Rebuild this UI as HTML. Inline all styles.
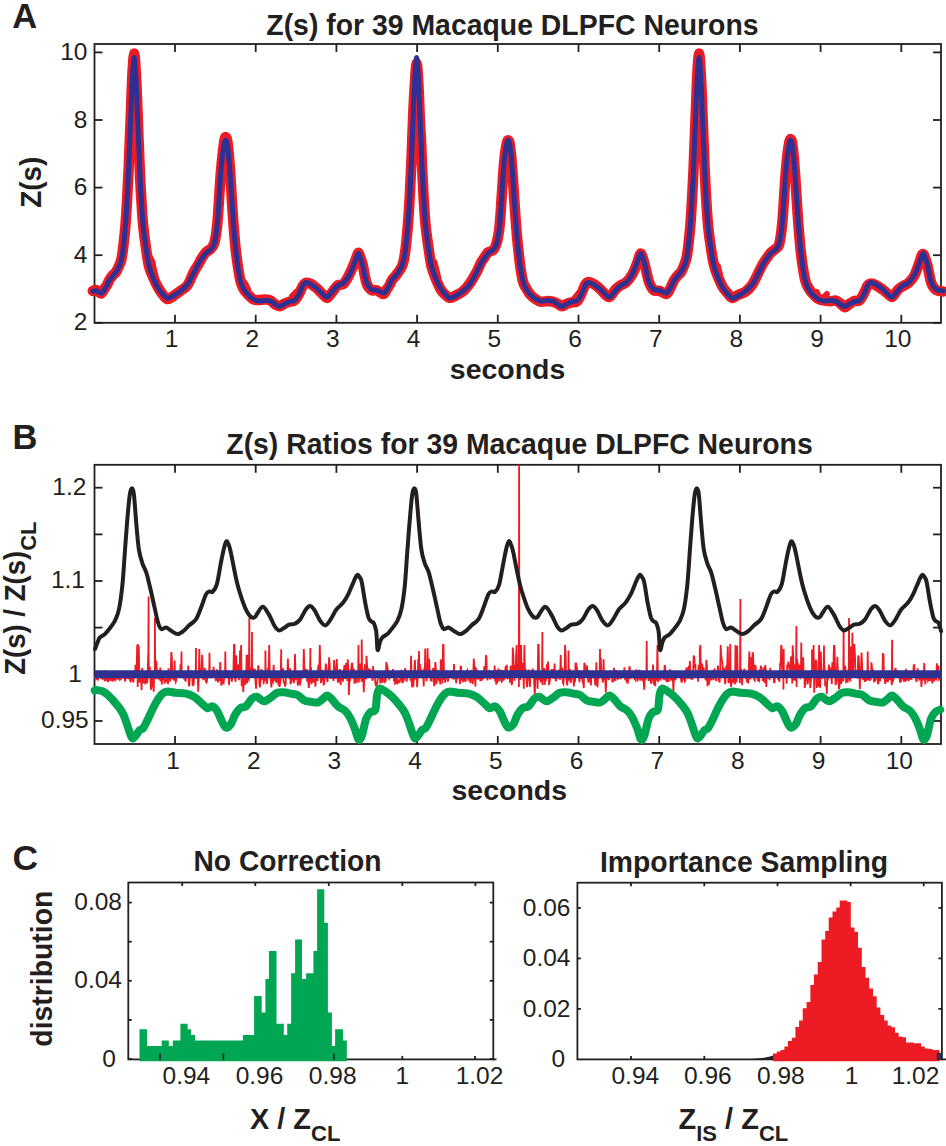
<!DOCTYPE html>
<html><head><meta charset="utf-8"><title>Z(s) figure</title>
<style>html,body{margin:0;padding:0;background:#fff;overflow:hidden}svg{display:block}text{font-family:"Liberation Sans",sans-serif;fill:#231f20}</style>
</head><body>
<svg width="946" height="1146" viewBox="0 0 946 1146">
<rect width="946" height="1146" fill="#fff"/>
<defs>
<clipPath id="cA"><rect x="80" y="44.0" width="870" height="278.8"/></clipPath>
<clipPath id="cB"><rect x="80" y="464.8" width="870" height="282.2"/></clipPath>
</defs>
<rect x="94.5" y="44.0" width="846.5" height="278.8" fill="none" stroke="#231f20" stroke-width="1.8"/>
<line x1="175" y1="322.8" x2="175" y2="314.8" stroke="#231f20" stroke-width="1.8"/>
<line x1="175" y1="44" x2="175" y2="52" stroke="#231f20" stroke-width="1.8"/>
<text x="171.5" y="347.3" font-size="24.5" font-weight="normal" text-anchor="middle">1</text>
<line x1="255.7" y1="322.8" x2="255.7" y2="314.8" stroke="#231f20" stroke-width="1.8"/>
<line x1="255.7" y1="44" x2="255.7" y2="52" stroke="#231f20" stroke-width="1.8"/>
<text x="252.2" y="347.3" font-size="24.5" font-weight="normal" text-anchor="middle">2</text>
<line x1="336.4" y1="322.8" x2="336.4" y2="314.8" stroke="#231f20" stroke-width="1.8"/>
<line x1="336.4" y1="44" x2="336.4" y2="52" stroke="#231f20" stroke-width="1.8"/>
<text x="332.9" y="347.3" font-size="24.5" font-weight="normal" text-anchor="middle">3</text>
<line x1="417.1" y1="322.8" x2="417.1" y2="314.8" stroke="#231f20" stroke-width="1.8"/>
<line x1="417.1" y1="44" x2="417.1" y2="52" stroke="#231f20" stroke-width="1.8"/>
<text x="413.6" y="347.3" font-size="24.5" font-weight="normal" text-anchor="middle">4</text>
<line x1="497.8" y1="322.8" x2="497.8" y2="314.8" stroke="#231f20" stroke-width="1.8"/>
<line x1="497.8" y1="44" x2="497.8" y2="52" stroke="#231f20" stroke-width="1.8"/>
<text x="494.3" y="347.3" font-size="24.5" font-weight="normal" text-anchor="middle">5</text>
<line x1="578.5" y1="322.8" x2="578.5" y2="314.8" stroke="#231f20" stroke-width="1.8"/>
<line x1="578.5" y1="44" x2="578.5" y2="52" stroke="#231f20" stroke-width="1.8"/>
<text x="575" y="347.3" font-size="24.5" font-weight="normal" text-anchor="middle">6</text>
<line x1="659.2" y1="322.8" x2="659.2" y2="314.8" stroke="#231f20" stroke-width="1.8"/>
<line x1="659.2" y1="44" x2="659.2" y2="52" stroke="#231f20" stroke-width="1.8"/>
<text x="655.7" y="347.3" font-size="24.5" font-weight="normal" text-anchor="middle">7</text>
<line x1="739.9" y1="322.8" x2="739.9" y2="314.8" stroke="#231f20" stroke-width="1.8"/>
<line x1="739.9" y1="44" x2="739.9" y2="52" stroke="#231f20" stroke-width="1.8"/>
<text x="736.4" y="347.3" font-size="24.5" font-weight="normal" text-anchor="middle">8</text>
<line x1="820.6" y1="322.8" x2="820.6" y2="314.8" stroke="#231f20" stroke-width="1.8"/>
<line x1="820.6" y1="44" x2="820.6" y2="52" stroke="#231f20" stroke-width="1.8"/>
<text x="817.1" y="347.3" font-size="24.5" font-weight="normal" text-anchor="middle">9</text>
<line x1="901.3" y1="322.8" x2="901.3" y2="314.8" stroke="#231f20" stroke-width="1.8"/>
<line x1="901.3" y1="44" x2="901.3" y2="52" stroke="#231f20" stroke-width="1.8"/>
<text x="897.8" y="347.3" font-size="24.5" font-weight="normal" text-anchor="middle">10</text>
<line x1="94.5" y1="322.8" x2="102.5" y2="322.8" stroke="#231f20" stroke-width="1.8"/>
<line x1="941" y1="322.8" x2="933" y2="322.8" stroke="#231f20" stroke-width="1.8"/>
<text x="87.5" y="330.4" font-size="24.5" font-weight="normal" text-anchor="end">2</text>
<line x1="94.5" y1="255.2" x2="102.5" y2="255.2" stroke="#231f20" stroke-width="1.8"/>
<line x1="941" y1="255.2" x2="933" y2="255.2" stroke="#231f20" stroke-width="1.8"/>
<text x="87.5" y="262.8" font-size="24.5" font-weight="normal" text-anchor="end">4</text>
<line x1="94.5" y1="187.6" x2="102.5" y2="187.6" stroke="#231f20" stroke-width="1.8"/>
<line x1="941" y1="187.6" x2="933" y2="187.6" stroke="#231f20" stroke-width="1.8"/>
<text x="87.5" y="195.2" font-size="24.5" font-weight="normal" text-anchor="end">6</text>
<line x1="94.5" y1="120" x2="102.5" y2="120" stroke="#231f20" stroke-width="1.8"/>
<line x1="941" y1="120" x2="933" y2="120" stroke="#231f20" stroke-width="1.8"/>
<text x="87.5" y="127.6" font-size="24.5" font-weight="normal" text-anchor="end">8</text>
<line x1="94.5" y1="52.4" x2="102.5" y2="52.4" stroke="#231f20" stroke-width="1.8"/>
<line x1="941" y1="52.4" x2="933" y2="52.4" stroke="#231f20" stroke-width="1.8"/>
<text x="87.5" y="60" font-size="24.5" font-weight="normal" text-anchor="end">10</text>
<g clip-path="url(#cA)" fill="none" stroke-linejoin="round" stroke-linecap="round">
<path d="M92.8,290.9 C93.4,290.8 94.8,289.7 96.2,290.1 C97.6,290.5 99.7,293.7 101,293.5 C102.3,293.3 103.3,290.4 104.3,288.9 C105.3,287.5 106.3,286.2 107.2,284.7 C108.1,283.1 108.6,281.1 109.6,279.5 C110.6,277.9 111.9,276.3 113,275 C114.1,273.7 115.3,273.2 116.3,271.6 C117.3,270 118.4,267.2 119.2,265.4 C120,263.5 120.5,262.7 121.1,260.5 C121.7,258.2 122.2,254.8 122.6,252 C123,249.3 123.1,248.5 123.6,243.8 C124.1,239.1 125,231.7 125.6,223.7 C126.2,215.7 126.8,205.1 127.3,195.8 C127.8,186.5 128.3,177.2 128.7,167.9 C129.1,158.6 129.4,149.7 129.8,140 C130.2,130.3 130.6,120.3 131,110 C131.4,99.7 131.8,86 132.2,78 C132.6,70 132.9,66.1 133.2,62 C133.5,57.9 133.9,53.5 134.2,53.5 C134.5,53.5 134.8,57.2 135.2,62 C135.5,66.8 135.9,73.8 136.3,82 C136.7,90.2 137.1,101.3 137.5,111 C137.9,120.7 138.2,130.5 138.6,140 C139,149.5 139.3,158.6 139.7,167.9 C140.1,177.2 140.5,186.5 141.1,195.8 C141.7,205.1 142.3,215.6 143,223.7 C143.7,231.8 144.5,237.4 145.5,244.4 C146.5,251.5 147.6,260.5 149,266.3 C150.4,272 152.3,275.2 153.8,278.7 C155.3,282.3 156.6,284.9 158,287.4 C159.4,289.9 160.7,291.8 162.2,293.8 C163.7,295.7 165.3,298.7 167.2,299.1 C169.1,299.4 171.2,297.3 173.5,295.9 C175.8,294.4 178.8,292.2 181.1,290.4 C183.4,288.6 185.4,288.3 187.5,285.3 C189.6,282.2 192,275.5 193.8,272 C195.6,268.5 197.2,266.5 198.5,264.2 C199.8,261.9 200.6,260 201.8,258.1 C203,256.1 204.2,254.1 205.7,252.5 C207.2,250.9 209.6,250.1 211,248.6 C212.4,247.2 213.2,246.5 214.1,243.7 C215,240.9 215.8,236.4 216.4,231.9 C217,227.4 217.4,223 217.9,216.6 C218.4,210.2 218.9,201.3 219.4,193.7 C219.9,186.1 220.4,177.7 221,170.8 C221.6,163.9 222.2,157.7 222.8,152.5 C223.4,147.3 224.1,142 224.6,139.5 C225.1,137 225.4,137.1 225.8,137.3 C226.2,137.5 226.7,137.4 227.2,140.5 C227.7,143.6 228.4,149.8 228.9,155.6 C229.4,161.4 229.9,167.8 230.4,175.4 C230.9,183 231.4,193.2 231.9,201.3 C232.4,209.4 232.9,216.5 233.5,224.2 C234.1,231.9 234.8,241 235.5,247.7 C236.2,254.5 236.9,259.4 237.7,264.9 C238.5,270.3 239.4,276.7 240.4,280.7 C241.4,284.7 242.2,286.6 243.4,288.9 C244.6,291.2 246.2,292.6 247.8,294.3 C249.4,296 251.3,298.1 253,299.1 C254.7,300 256.1,299.9 258.2,300 C260.3,300.1 263.5,299.5 265.6,299.6 C267.7,299.7 269.2,299.8 270.8,300.6 C272.4,301.4 273.7,303.6 275.2,304.6 C276.7,305.5 278.2,306.4 279.7,306.3 C281.2,306.1 282.5,304.6 284.1,303.8 C285.7,303.1 287.6,302.3 289.3,301.8 C291,301.2 292.9,301.7 294.5,300.4 C296.1,299.1 297.5,296.6 298.9,294.2 C300.2,291.8 301.4,288.2 302.6,286.3 C303.8,284.4 304.6,283.3 306,282.9 C307.4,282.5 309.3,283 311.3,284.1 C313.3,285.2 315.9,287.7 318,289.5 C320.1,291.4 322.1,293.8 323.7,295.2 C325.3,296.5 325.9,298.5 327.5,297.8 C329.1,297 331.4,292.9 333.2,290.8 C334.9,288.7 336.2,286.4 338,285.2 C339.8,284 341.8,285.5 343.7,283.7 C345.6,281.9 347.6,277.7 349.4,274.3 C351.1,271 353,266.5 354.2,263.5 C355.4,260.6 356.1,258.3 356.8,256.5 C357.5,254.7 357.8,252.9 358.3,252.8 C358.8,252.7 359.1,254 359.8,256 C360.5,258 361.6,260.3 362.7,264.8 C363.8,269.3 365.1,278.8 366.5,283 C367.9,287.2 369.6,288.7 371.3,289.9 C373.1,291.2 375,289.8 377,290.4 C379,291.1 381.8,294.1 383.4,294 C385.1,293.8 385.7,290.9 386.8,289.4 C387.8,287.9 388.8,286.6 389.6,285 C390.5,283.4 391.1,281.5 392,280 C393,278.5 394.3,277.5 395.4,276.1 C396.6,274.6 397.7,273 398.8,271.5 C399.8,270 400.8,268.7 401.6,267 C402.4,265.3 403,263.8 403.5,261.5 C404.1,259.1 404.6,255.6 405,252.8 C405.5,250.1 405.5,249.8 406,244.9 C406.5,240.1 407.4,231.9 408,223.7 C408.7,215.5 409.2,205.1 409.8,195.8 C410.3,186.5 410.7,177.2 411.1,167.9 C411.6,158.6 411.9,149.7 412.2,140 C412.6,130.3 413.1,118.7 413.4,110 C413.8,101.3 414.3,94.3 414.6,88 C415,81.7 415.3,76.1 415.6,72 C416,67.9 416.3,63.5 416.6,63.5 C417,63.5 417.3,67.2 417.6,72 C418,76.8 418.4,83.8 418.8,92 C419.1,100.2 419.6,113 419.9,121 C420.3,129 420.7,132.2 421,140 C421.4,147.8 421.7,158.6 422.1,167.9 C422.6,177.2 423,186.5 423.5,195.8 C424.1,205.1 424.7,215.7 425.4,223.7 C426.2,231.7 426.9,236.7 427.9,243.7 C428.9,250.8 430.1,260 431.4,266 C432.8,272 434.8,276 436.2,279.8 C437.8,283.6 439.1,286.6 440.4,289 C441.8,291.4 443.1,292.7 444.6,294.1 C446.2,295.6 447.8,297.5 449.6,297.8 C451.5,298 453.6,296.6 455.9,295.5 C458.3,294.3 461.2,293 463.5,290.9 C465.9,288.9 467.8,286.4 469.9,283.3 C472.1,280.3 474.4,276.2 476.2,272.8 C478.1,269.4 479.6,265.4 480.9,262.8 C482.3,260.3 483.1,259.5 484.2,257.7 C485.4,256 486.6,253.6 488.1,252.3 C489.7,251 492.1,251.4 493.4,249.9 C494.8,248.4 495.6,246.4 496.5,243.4 C497.4,240.4 498.2,236.4 498.9,231.9 C499.5,227.4 499.9,223 500.4,216.6 C500.9,210.2 501.3,201.3 501.9,193.7 C502.4,186.1 502.9,177.7 503.4,170.8 C504,163.9 504.6,157.2 505.2,152.5 C505.9,147.8 506.5,144.5 507,142.5 C507.5,140.5 507.8,140.1 508.2,140.3 C508.7,140.5 509.1,140.4 509.6,143.5 C510.2,146.6 510.8,152.8 511.4,158.6 C511.9,164.4 512.4,171.3 512.9,178.4 C513.4,185.5 513.8,193.7 514.4,201.3 C514.9,208.9 515.4,216.7 516,224.2 C516.6,231.7 517.2,239.7 518,246.6 C518.7,253.4 519.3,259.5 520.1,265.3 C521,271.1 521.9,277.5 522.9,281.2 C523.8,285 524.6,285.6 525.9,287.8 C527.1,290 528.6,292.6 530.2,294.5 C531.9,296.4 533.7,297.9 535.5,299.1 C537.2,300.3 538.5,301.3 540.6,301.7 C542.8,302 545.9,301.1 548,301.1 C550.1,301.2 551.6,301.5 553.2,301.9 C554.9,302.4 556.2,303 557.6,303.8 C559.1,304.5 560.7,306.2 562.1,306.2 C563.6,306.3 564.9,304.6 566.5,303.9 C568.1,303.3 570,302.8 571.8,302.4 C573.5,302 575.4,302.8 577,301.4 C578.6,300 580,296.6 581.3,293.9 C582.7,291.2 583.9,287 585,285.1 C586.2,283.1 587,282.1 588.5,282 C589.9,281.8 591.8,282.8 593.8,284.1 C595.8,285.3 598.4,287.5 600.5,289.4 C602.5,291.2 604.6,294.1 606.1,295.3 C607.7,296.5 608.4,297.5 610,296.5 C611.5,295.5 613.9,291.2 615.6,289.3 C617.4,287.5 618.7,286.6 620.5,285.4 C622.2,284.3 624.2,284.1 626.1,282.4 C628,280.7 630.1,278.2 631.8,275.2 C633.6,272.3 635.4,267.7 636.6,264.6 C637.9,261.5 638.6,258.2 639.2,256.4 C639.9,254.5 640.2,253.6 640.8,253.5 C641.2,253.5 641.5,254.1 642.2,256.2 C643,258.3 644,261.8 645.1,266.1 C646.3,270.3 647.5,277.8 649,281.8 C650.4,285.8 652,288.7 653.8,290.2 C655.5,291.7 657.4,290.2 659.5,290.9 C661.5,291.5 664.3,294 665.9,293.9 C667.5,293.9 668.2,292 669.2,290.4 C670.2,288.8 671.2,286.2 672.1,284.4 C673,282.6 673.5,281.1 674.5,279.6 C675.5,278.1 676.8,276.4 677.9,275.1 C679,273.8 680.2,273.5 681.2,271.9 C682.2,270.3 683.3,267.4 684.1,265.4 C684.9,263.4 685.4,261.9 686,259.7 C686.6,257.6 687.1,255 687.5,252.3 C687.9,249.7 688,248.7 688.5,243.9 C689,239.2 689.9,231.7 690.5,223.7 C691.1,215.7 691.7,205.1 692.2,195.8 C692.7,186.5 693.2,177.2 693.6,167.9 C694,158.6 694.3,149.7 694.7,140 C695.1,130.3 695.5,120.3 695.9,110 C696.3,99.7 696.7,86 697.1,78 C697.5,70 697.8,66.1 698.1,62 C698.4,57.9 698.8,53.5 699.1,53.5 C699.4,53.5 699.7,57.2 700.1,62 C700.4,66.8 700.8,73.8 701.2,82 C701.6,90.2 702,101.3 702.4,111 C702.8,120.7 703.1,130.5 703.5,140 C703.9,149.5 704.2,158.6 704.6,167.9 C705,177.2 705.5,186.5 706,195.8 C706.5,205.1 707.2,215.6 707.9,223.7 C708.6,231.8 709.4,237.4 710.4,244.3 C711.4,251.1 712.5,259 713.9,264.7 C715.3,270.4 717.2,274.7 718.7,278.5 C720.2,282.3 721.5,284.9 722.9,287.3 C724.3,289.7 725.6,290.9 727.1,292.7 C728.6,294.5 730.2,297.6 732.1,297.9 C734,298.3 736.1,295.8 738.4,294.8 C740.7,293.7 743.7,293.1 746,291.3 C748.3,289.6 750.3,287.7 752.4,284.5 C754.5,281.3 756.9,275.8 758.7,272.2 C760.5,268.6 762.1,265.3 763.4,263 C764.7,260.7 765.5,259.9 766.7,258.2 C767.9,256.5 769.1,254.5 770.6,252.9 C772.1,251.3 774.5,250 775.9,248.6 C777.3,247.3 778.1,247.6 779,244.8 C779.9,242 780.7,236.6 781.3,231.9 C781.9,227.2 782.3,223 782.8,216.6 C783.3,210.2 783.8,201.3 784.3,193.7 C784.8,186.1 785.3,177.7 785.9,170.8 C786.5,163.9 787.1,157.4 787.7,152.5 C788.3,147.6 789,143.7 789.5,141.5 C790,139.3 790.3,139.1 790.7,139.3 C791.1,139.5 791.6,139.4 792.1,142.5 C792.6,145.6 793.3,151.8 793.8,157.6 C794.3,163.4 794.8,170.1 795.3,177.4 C795.8,184.7 796.3,193.5 796.8,201.3 C797.3,209.1 797.8,216.4 798.4,224.2 C799,232 799.7,241.2 800.4,248.1 C801.1,255 801.8,260 802.6,265.4 C803.4,270.8 804.3,276.7 805.3,280.5 C806.2,284.2 807.1,285.5 808.3,287.8 C809.5,290 811.1,292 812.7,293.8 C814.3,295.6 816.2,297.6 817.9,298.7 C819.6,299.8 821,300 823.1,300.4 C825.2,300.8 828.4,301.1 830.5,301.2 C832.6,301.2 834.1,300.2 835.7,300.5 C837.3,300.9 838.6,302.1 840.1,303.2 C841.6,304.4 843.1,307.1 844.6,307.3 C846.1,307.5 847.4,305.3 849,304.3 C850.6,303.2 852.5,301.5 854.2,300.9 C855.9,300.3 857.8,301.8 859.4,300.6 C861,299.4 862.4,296.1 863.8,293.7 C865.1,291.2 866.3,287.5 867.5,285.8 C868.7,284.1 869.4,283.5 870.9,283.5 C872.4,283.4 874.2,284.3 876.2,285.3 C878.2,286.4 880.8,288.2 882.9,289.8 C885,291.3 887,293.5 888.6,294.6 C890.2,295.8 890.8,297.6 892.4,296.7 C894,295.9 896.3,291.4 898.1,289.6 C899.8,287.9 901.1,287.3 902.9,286.1 C904.6,285 906.7,284.5 908.6,282.8 C910.5,281 912.5,278.9 914.3,275.7 C916,272.4 917.9,266.7 919.1,263.4 C920.3,260 921,257 921.7,255.4 C922.4,253.9 922.7,253.9 923.2,254.1 C923.7,254.4 924,254.9 924.7,257 C925.4,259 926.5,262 927.6,266.4 C928.7,270.8 930,279.4 931.4,283.3 C932.8,287.3 934.2,288.7 936.2,290 C938.2,291.4 942,291.2 943.2,291.5" stroke="#ed1c24" stroke-width="10.5"/>
<path d="M150.5,258 L152.5,262 L154,270 L156,278" stroke="#ed1c24" stroke-width="6"/>
<path d="M244,282 L246,285 L248,289" stroke="#ed1c24" stroke-width="6"/>
<path d="M434.4,262 L436.4,270 L438.4,278" stroke="#ed1c24" stroke-width="6"/>
<path d="M717.9,266 L719.9,274" stroke="#ed1c24" stroke-width="6"/>
<path d="M292,296 L296,292" stroke="#ed1c24" stroke-width="6"/>
<path d="M574.5,298 L578.5,293" stroke="#ed1c24" stroke-width="6"/>
<path d="M814.9,296 L816.9,292 L818.9,297" stroke="#ed1c24" stroke-width="6"/>
<path d="M822.9,298 L826.9,294" stroke="#ed1c24" stroke-width="6"/>
<path d="M92.8,291.3 C93.4,291.2 94.8,290.5 96.2,290.8 C97.6,291.1 99.7,293.4 101,293.2 C102.3,293 103.3,291.2 104.3,289.8 C105.3,288.4 106.3,286.3 107.2,284.6 C108.1,282.9 108.6,281.2 109.6,279.8 C110.6,278.4 111.9,277.3 113,275.9 C114.1,274.5 115.3,273.2 116.3,271.6 C117.3,270 118.4,268.1 119.2,266.3 C120,264.5 120.5,262.8 121.1,260.6 C121.7,258.4 122.2,255.6 122.6,252.9 C123,250.2 123.1,249.5 123.6,244.6 C124.1,239.7 125,231.8 125.6,223.7 C126.2,215.6 126.8,205.1 127.3,195.8 C127.8,186.5 128.3,177.2 128.7,167.9 C129.1,158.6 129.4,149.7 129.8,140 C130.2,130.3 130.6,119.7 131,110 C131.4,100.3 131.8,89.3 132.2,82 C132.6,74.7 132.9,70.1 133.2,66 C133.5,61.9 133.9,57.5 134.2,57.5 C134.5,57.5 134.8,61.2 135.2,66 C135.5,70.8 135.9,77.8 136.3,86 C136.7,94.2 137.1,106 137.5,115 C137.9,124 138.2,131.2 138.6,140 C139,148.8 139.3,158.6 139.7,167.9 C140.1,177.2 140.5,186.5 141.1,195.8 C141.7,205.1 142.3,215.6 143,223.7 C143.7,231.8 144.5,237.6 145.5,244.6 C146.5,251.6 147.6,259.8 149,265.6 C150.4,271.4 152.3,275.8 153.8,279.5 C155.3,283.2 156.6,285.7 158,288 C159.4,290.3 160.7,291.8 162.2,293.5 C163.7,295.2 165.3,297.8 167.2,298.2 C169.1,298.6 171.2,297 173.5,295.7 C175.8,294.4 178.8,292.5 181.1,290.6 C183.4,288.7 185.4,287.2 187.5,284.3 C189.6,281.4 192,276.4 193.8,272.9 C195.6,269.4 197.2,265.9 198.5,263.5 C199.8,261.1 200.6,260.2 201.8,258.5 C203,256.8 204.2,254.7 205.7,253.2 C207.2,251.7 209.6,250.9 211,249.4 C212.4,247.9 213.2,247 214.1,244.1 C215,241.2 215.8,236.5 216.4,231.9 C217,227.3 217.4,223 217.9,216.6 C218.4,210.2 218.9,201.3 219.4,193.7 C219.9,186.1 220.4,177.7 221,170.8 C221.6,163.9 222.2,157.2 222.8,152.5 C223.4,147.8 224.1,144.5 224.6,142.5 C225.1,140.5 225.4,140.1 225.8,140.3 C226.2,140.5 226.7,140.4 227.2,143.5 C227.7,146.6 228.4,152.8 228.9,158.6 C229.4,164.4 229.9,171.3 230.4,178.4 C230.9,185.5 231.4,193.7 231.9,201.3 C232.4,208.9 232.9,216.6 233.5,224.2 C234.1,231.8 234.8,240.2 235.5,247.1 C236.2,254 236.9,259.9 237.7,265.5 C238.5,271.1 239.4,276.6 240.4,280.5 C241.4,284.4 242.2,286.2 243.4,288.6 C244.6,291 246.2,292.9 247.8,294.6 C249.4,296.3 251.3,297.9 253,299 C254.7,300.1 256.1,300.6 258.2,300.9 C260.3,301.1 263.5,300.4 265.6,300.5 C267.7,300.6 269.2,300.6 270.8,301.2 C272.4,301.8 273.7,303.3 275.2,304.2 C276.7,305.1 278.2,306.4 279.7,306.4 C281.2,306.4 282.5,305 284.1,304.2 C285.7,303.4 287.6,302.2 289.3,301.6 C291,301 292.9,301.7 294.5,300.5 C296.1,299.3 297.5,297.1 298.9,294.6 C300.2,292.1 301.4,287.7 302.6,285.7 C303.8,283.7 304.6,282.7 306,282.5 C307.4,282.3 309.3,283.5 311.3,284.6 C313.3,285.8 315.9,287.6 318,289.4 C320.1,291.1 322.1,293.8 323.7,295.1 C325.3,296.4 325.9,297.8 327.5,297 C329.1,296.2 331.4,292.2 333.2,290.3 C334.9,288.4 336.2,286.9 338,285.6 C339.8,284.3 341.8,284.4 343.7,282.7 C345.6,280.9 347.6,278.3 349.4,275.1 C351.1,271.9 353,266.9 354.2,263.7 C355.4,260.5 356.1,257.7 356.8,256 C357.5,254.3 357.8,253.5 358.3,253.5 C358.8,253.5 359.1,254 359.8,256 C360.5,258 361.6,261.2 362.7,265.7 C363.8,270.1 365.1,278.8 366.5,282.7 C367.9,286.6 369.6,288.1 371.3,289.4 C373.1,290.7 375,289.7 377,290.3 C379,290.9 381.8,293.3 383.4,293.2 C385.1,293.1 385.7,291.2 386.8,289.8 C387.8,288.4 388.8,286.3 389.6,284.6 C390.5,282.9 391.1,281.2 392,279.8 C393,278.4 394.3,277.3 395.4,275.9 C396.6,274.5 397.7,273.2 398.8,271.6 C399.8,270 400.8,268.1 401.6,266.3 C402.4,264.5 403,262.8 403.5,260.6 C404.1,258.4 404.6,255.6 405,252.9 C405.5,250.2 405.5,249.5 406,244.6 C406.5,239.7 407.4,231.8 408,223.7 C408.7,215.6 409.2,205.1 409.8,195.8 C410.3,186.5 410.7,177.2 411.1,167.9 C411.6,158.6 411.9,149.7 412.2,140 C412.6,130.3 413.1,119.7 413.4,110 C413.8,100.3 414.3,89.3 414.6,82 C415,74.7 415.3,70.1 415.6,66 C416,61.9 416.3,57.5 416.6,57.5 C417,57.5 417.3,61.2 417.6,66 C418,70.8 418.4,77.8 418.8,86 C419.1,94.2 419.6,106 419.9,115 C420.3,124 420.7,131.2 421,140 C421.4,148.8 421.7,158.6 422.1,167.9 C422.6,177.2 423,186.5 423.5,195.8 C424.1,205.1 424.7,215.6 425.4,223.7 C426.2,231.8 426.9,237.6 427.9,244.6 C428.9,251.6 430.1,259.8 431.4,265.6 C432.8,271.4 434.8,275.8 436.2,279.5 C437.8,283.2 439.1,285.7 440.4,288 C441.8,290.3 443.1,291.8 444.6,293.5 C446.2,295.2 447.8,297.8 449.6,298.2 C451.5,298.6 453.6,297 455.9,295.7 C458.3,294.4 461.2,292.5 463.5,290.6 C465.9,288.7 467.8,287.2 469.9,284.3 C472.1,281.4 474.4,276.4 476.2,272.9 C478.1,269.4 479.6,265.9 480.9,263.5 C482.3,261.1 483.1,260.2 484.2,258.5 C485.4,256.8 486.6,254.7 488.1,253.2 C489.7,251.7 492.1,250.9 493.4,249.4 C494.8,247.9 495.6,247 496.5,244.1 C497.4,241.2 498.2,236.5 498.9,231.9 C499.5,227.3 499.9,223 500.4,216.6 C500.9,210.2 501.3,201.3 501.9,193.7 C502.4,186.1 502.9,177.7 503.4,170.8 C504,163.9 504.6,157.2 505.2,152.5 C505.9,147.8 506.5,144.5 507,142.5 C507.5,140.5 507.8,140.1 508.2,140.3 C508.7,140.5 509.1,140.4 509.6,143.5 C510.2,146.6 510.8,152.8 511.4,158.6 C511.9,164.4 512.4,171.3 512.9,178.4 C513.4,185.5 513.8,193.7 514.4,201.3 C514.9,208.9 515.4,216.6 516,224.2 C516.6,231.8 517.2,240.2 518,247.1 C518.7,254 519.3,259.9 520.1,265.5 C521,271.1 521.9,276.6 522.9,280.5 C523.8,284.4 524.6,286.2 525.9,288.6 C527.1,291 528.6,292.9 530.2,294.6 C531.9,296.3 533.7,297.9 535.5,299 C537.2,300.1 538.5,300.6 540.6,300.9 C542.8,301.1 545.9,300.4 548,300.5 C550.1,300.6 551.6,300.6 553.2,301.2 C554.9,301.8 556.2,303.3 557.6,304.2 C559.1,305.1 560.7,306.4 562.1,306.4 C563.6,306.4 564.9,305 566.5,304.2 C568.1,303.4 570,302.2 571.8,301.6 C573.5,301 575.4,301.7 577,300.5 C578.6,299.3 580,297.1 581.3,294.6 C582.7,292.1 583.9,287.7 585,285.7 C586.2,283.7 587,282.7 588.5,282.5 C589.9,282.3 591.8,283.5 593.8,284.6 C595.8,285.8 598.4,287.6 600.5,289.4 C602.5,291.1 604.6,293.8 606.1,295.1 C607.7,296.4 608.4,297.8 610,297 C611.5,296.2 613.9,292.2 615.6,290.3 C617.4,288.4 618.7,286.9 620.5,285.6 C622.2,284.3 624.2,284.4 626.1,282.7 C628,280.9 630.1,278.3 631.8,275.1 C633.6,271.9 635.4,266.9 636.6,263.7 C637.9,260.5 638.6,257.7 639.2,256 C639.9,254.3 640.2,253.5 640.8,253.5 C641.2,253.5 641.5,254 642.2,256 C643,258 644,261.2 645.1,265.7 C646.3,270.1 647.5,278.8 649,282.7 C650.4,286.6 652,288.1 653.8,289.4 C655.5,290.7 657.4,289.7 659.5,290.3 C661.5,290.9 664.3,293.3 665.9,293.2 C667.5,293.1 668.2,291.2 669.2,289.8 C670.2,288.4 671.2,286.3 672.1,284.6 C673,282.9 673.5,281.2 674.5,279.8 C675.5,278.4 676.8,277.3 677.9,275.9 C679,274.5 680.2,273.2 681.2,271.6 C682.2,270 683.3,268.1 684.1,266.3 C684.9,264.5 685.4,262.8 686,260.6 C686.6,258.4 687.1,255.6 687.5,252.9 C687.9,250.2 688,249.5 688.5,244.6 C689,239.7 689.9,231.8 690.5,223.7 C691.1,215.6 691.7,205.1 692.2,195.8 C692.7,186.5 693.2,177.2 693.6,167.9 C694,158.6 694.3,149.7 694.7,140 C695.1,130.3 695.5,119.7 695.9,110 C696.3,100.3 696.7,89.3 697.1,82 C697.5,74.7 697.8,70.1 698.1,66 C698.4,61.9 698.8,57.5 699.1,57.5 C699.4,57.5 699.7,61.2 700.1,66 C700.4,70.8 700.8,77.8 701.2,86 C701.6,94.2 702,106 702.4,115 C702.8,124 703.1,131.2 703.5,140 C703.9,148.8 704.2,158.6 704.6,167.9 C705,177.2 705.5,186.5 706,195.8 C706.5,205.1 707.2,215.6 707.9,223.7 C708.6,231.8 709.4,237.6 710.4,244.6 C711.4,251.6 712.5,259.8 713.9,265.6 C715.3,271.4 717.2,275.8 718.7,279.5 C720.2,283.2 721.5,285.7 722.9,288 C724.3,290.3 725.6,291.8 727.1,293.5 C728.6,295.2 730.2,297.8 732.1,298.2 C734,298.6 736.1,297 738.4,295.7 C740.7,294.4 743.7,292.5 746,290.6 C748.3,288.7 750.3,287.2 752.4,284.3 C754.5,281.4 756.9,276.4 758.7,272.9 C760.5,269.4 762.1,265.9 763.4,263.5 C764.7,261.1 765.5,260.2 766.7,258.5 C767.9,256.8 769.1,254.7 770.6,253.2 C772.1,251.7 774.5,250.9 775.9,249.4 C777.3,247.9 778.1,247 779,244.1 C779.9,241.2 780.7,236.5 781.3,231.9 C781.9,227.3 782.3,223 782.8,216.6 C783.3,210.2 783.8,201.3 784.3,193.7 C784.8,186.1 785.3,177.7 785.9,170.8 C786.5,163.9 787.1,157.2 787.7,152.5 C788.3,147.8 789,144.5 789.5,142.5 C790,140.5 790.3,140.1 790.7,140.3 C791.1,140.5 791.6,140.4 792.1,143.5 C792.6,146.6 793.3,152.8 793.8,158.6 C794.3,164.4 794.8,171.3 795.3,178.4 C795.8,185.5 796.3,193.7 796.8,201.3 C797.3,208.9 797.8,216.6 798.4,224.2 C799,231.8 799.7,240.2 800.4,247.1 C801.1,254 801.8,259.9 802.6,265.5 C803.4,271.1 804.3,276.6 805.3,280.5 C806.2,284.4 807.1,286.2 808.3,288.6 C809.5,291 811.1,292.9 812.7,294.6 C814.3,296.3 816.2,297.9 817.9,299 C819.6,300.1 821,300.6 823.1,300.9 C825.2,301.1 828.4,300.4 830.5,300.5 C832.6,300.6 834.1,300.6 835.7,301.2 C837.3,301.8 838.6,303.3 840.1,304.2 C841.6,305.1 843.1,306.4 844.6,306.4 C846.1,306.4 847.4,305 849,304.2 C850.6,303.4 852.5,302.2 854.2,301.6 C855.9,301 857.8,301.7 859.4,300.5 C861,299.3 862.4,297.1 863.8,294.6 C865.1,292.1 866.3,287.7 867.5,285.7 C868.7,283.7 869.4,282.7 870.9,282.5 C872.4,282.3 874.2,283.5 876.2,284.6 C878.2,285.8 880.8,287.6 882.9,289.4 C885,291.1 887,293.8 888.6,295.1 C890.2,296.4 890.8,297.8 892.4,297 C894,296.2 896.3,292.2 898.1,290.3 C899.8,288.4 901.1,286.9 902.9,285.6 C904.6,284.3 906.7,284.4 908.6,282.7 C910.5,280.9 912.5,278.3 914.3,275.1 C916,271.9 917.9,266.9 919.1,263.7 C920.3,260.5 921,257.7 921.7,256 C922.4,254.3 922.7,253.5 923.2,253.5 C923.7,253.5 924,254 924.7,256 C925.4,258 926.5,261.2 927.6,265.7 C928.7,270.1 930,278.8 931.4,282.7 C932.8,286.6 934.2,288 936.2,289.4 C938.2,290.8 942,290.7 943.2,291" stroke="#2e3192" stroke-width="5"/>
</g>
<text x="12.2" y="28.2" font-size="34.5" font-weight="bold" text-anchor="start">A</text>
<text x="266.3" y="34.6" font-size="29.6" font-weight="bold" text-anchor="start" textLength="492.3" lengthAdjust="spacingAndGlyphs">Z(s) for 39 Macaque DLPFC Neurons</text>
<text x="449.8" y="379.1" font-size="28" font-weight="bold" text-anchor="start" textLength="115.5" lengthAdjust="spacingAndGlyphs">seconds</text>
<text transform="translate(41,207.7) rotate(-90)" font-size="29" font-weight="bold" textLength="51" lengthAdjust="spacingAndGlyphs">Z(s)</text>
<rect x="94.5" y="464.8" width="846.5" height="279.2" fill="none" stroke="#231f20" stroke-width="1.8"/>
<line x1="175" y1="744" x2="175" y2="736" stroke="#231f20" stroke-width="1.8"/>
<line x1="175" y1="464.8" x2="175" y2="472.8" stroke="#231f20" stroke-width="1.8"/>
<text x="173" y="768.5" font-size="24.5" font-weight="normal" text-anchor="middle">1</text>
<line x1="255.7" y1="744" x2="255.7" y2="736" stroke="#231f20" stroke-width="1.8"/>
<line x1="255.7" y1="464.8" x2="255.7" y2="472.8" stroke="#231f20" stroke-width="1.8"/>
<text x="253.7" y="768.5" font-size="24.5" font-weight="normal" text-anchor="middle">2</text>
<line x1="336.4" y1="744" x2="336.4" y2="736" stroke="#231f20" stroke-width="1.8"/>
<line x1="336.4" y1="464.8" x2="336.4" y2="472.8" stroke="#231f20" stroke-width="1.8"/>
<text x="334.4" y="768.5" font-size="24.5" font-weight="normal" text-anchor="middle">3</text>
<line x1="417.1" y1="744" x2="417.1" y2="736" stroke="#231f20" stroke-width="1.8"/>
<line x1="417.1" y1="464.8" x2="417.1" y2="472.8" stroke="#231f20" stroke-width="1.8"/>
<text x="415.1" y="768.5" font-size="24.5" font-weight="normal" text-anchor="middle">4</text>
<line x1="497.8" y1="744" x2="497.8" y2="736" stroke="#231f20" stroke-width="1.8"/>
<line x1="497.8" y1="464.8" x2="497.8" y2="472.8" stroke="#231f20" stroke-width="1.8"/>
<text x="495.8" y="768.5" font-size="24.5" font-weight="normal" text-anchor="middle">5</text>
<line x1="578.5" y1="744" x2="578.5" y2="736" stroke="#231f20" stroke-width="1.8"/>
<line x1="578.5" y1="464.8" x2="578.5" y2="472.8" stroke="#231f20" stroke-width="1.8"/>
<text x="576.5" y="768.5" font-size="24.5" font-weight="normal" text-anchor="middle">6</text>
<line x1="659.2" y1="744" x2="659.2" y2="736" stroke="#231f20" stroke-width="1.8"/>
<line x1="659.2" y1="464.8" x2="659.2" y2="472.8" stroke="#231f20" stroke-width="1.8"/>
<text x="657.2" y="768.5" font-size="24.5" font-weight="normal" text-anchor="middle">7</text>
<line x1="739.9" y1="744" x2="739.9" y2="736" stroke="#231f20" stroke-width="1.8"/>
<line x1="739.9" y1="464.8" x2="739.9" y2="472.8" stroke="#231f20" stroke-width="1.8"/>
<text x="737.9" y="768.5" font-size="24.5" font-weight="normal" text-anchor="middle">8</text>
<line x1="820.6" y1="744" x2="820.6" y2="736" stroke="#231f20" stroke-width="1.8"/>
<line x1="820.6" y1="464.8" x2="820.6" y2="472.8" stroke="#231f20" stroke-width="1.8"/>
<text x="818.6" y="768.5" font-size="24.5" font-weight="normal" text-anchor="middle">9</text>
<line x1="901.3" y1="744" x2="901.3" y2="736" stroke="#231f20" stroke-width="1.8"/>
<line x1="901.3" y1="464.8" x2="901.3" y2="472.8" stroke="#231f20" stroke-width="1.8"/>
<text x="899.3" y="768.5" font-size="24.5" font-weight="normal" text-anchor="middle">10</text>
<line x1="94.5" y1="721" x2="102.5" y2="721" stroke="#231f20" stroke-width="1.8"/>
<line x1="941" y1="721" x2="933" y2="721" stroke="#231f20" stroke-width="1.8"/>
<line x1="94.5" y1="627.6" x2="102.5" y2="627.6" stroke="#231f20" stroke-width="1.8"/>
<line x1="941" y1="627.6" x2="933" y2="627.6" stroke="#231f20" stroke-width="1.8"/>
<line x1="94.5" y1="581" x2="102.5" y2="581" stroke="#231f20" stroke-width="1.8"/>
<line x1="941" y1="581" x2="933" y2="581" stroke="#231f20" stroke-width="1.8"/>
<line x1="94.5" y1="534.4" x2="102.5" y2="534.4" stroke="#231f20" stroke-width="1.8"/>
<line x1="941" y1="534.4" x2="933" y2="534.4" stroke="#231f20" stroke-width="1.8"/>
<line x1="94.5" y1="487.7" x2="102.5" y2="487.7" stroke="#231f20" stroke-width="1.8"/>
<line x1="941" y1="487.7" x2="933" y2="487.7" stroke="#231f20" stroke-width="1.8"/>
<g clip-path="url(#cB)" fill="none" stroke-linejoin="round" stroke-linecap="round">
<path d="M94.8,676 L95.3,678.4 L95.9,676.3 L96.4,679.1 L97,678.6 L97.5,676.6 L98.1,679.1 L98.6,677.7 L99.2,677.4 L99.7,672.9 L100.3,676 L100.8,678.4 L101.4,671.7 L101.9,679.3 L102.5,677.9 L103,675.8 L103.6,678.4 L104.1,679.3 L104.7,672.2 L105.2,670.5 L105.8,681 L106.3,677.4 L106.9,678.3 L107.4,678.5 L108,682.2 L108.5,675.5 L109.1,678.1 L109.6,676.4 L110.2,680.6 L110.7,679 L111.3,679.7 L111.8,678.5 L112.4,679.9 L112.9,678.7 L113.5,678 L114,680 L114.6,679.1 L115.1,677.9 L115.7,679.6 L116.2,678.2 L116.8,678.5 L117.3,677.5 L117.9,677.2 L118.4,678.4 L119,679.2 L119.5,676.8 L120.1,679.6 L120.6,679.5 L121.2,677.3 L121.7,672.6 L122.3,677.5 L122.8,677.6 L123.4,677.6 L123.9,676.2 L124.5,676.9 L125,680.5 L125.6,679.9 L126.1,676.8 L126.7,676.7 L127.2,672.8 L127.8,678.6 L128.3,677.2 L128.9,677.1 L129.4,678.8 L130,680.2 L130.5,680.9 L131.1,672.5 L131.6,674.1 L132.2,679.4 L132.7,680.5 L133.3,682.3 L133.8,676.9 L134.4,675.4 L134.9,678.1 L135.5,664.9 L136,667.6 L136.6,672.4 L137.2,645 L137.5,674 L137.7,687.1 L137.8,644 L138.2,674 L138.3,647.3 L138.8,647.1 L139.4,682.8 L139.9,671.3 L140.5,672.3 L141,676.2 L141.6,690.1 L142.1,668 L142.7,671.6 L143.2,683.5 L143.8,673 L144.3,671.2 L144.9,681.3 L145.4,684.3 L146,674.8 L146.5,677.1 L147.1,683.2 L147.6,678.3 L148.2,653.3 L148.2,674 L148.6,596.5 L148.7,660.8 L148.9,674 L149.3,676.5 L149.8,666.8 L150.4,677.5 L150.9,689.7 L151.5,686.9 L152,674.6 L152.6,677.2 L153.1,682.1 L153.7,691.8 L154.2,673.9 L154.6,674 L154.8,677.1 L154.9,618 L155.2,674 L155.3,679.1 L155.9,660.7 L156.4,662.8 L157,673.7 L157.5,679.3 L158.1,669.8 L158.6,679 L159.2,675 L159.7,680.4 L160.3,667.5 L160.8,679 L161.4,678 L161.9,684.5 L162.5,673.3 L163,679.7 L163.6,679.3 L164.1,674.5 L164.7,683.7 L165.2,681.1 L165.8,681 L166.3,681.2 L166.9,675 L167.4,680.3 L168,684.1 L168.5,668.4 L169.1,678.8 L169.6,677.4 L170.2,681.4 L170.7,676.2 L171.3,652 L171.8,656.6 L172.4,679.3 L172.9,677.5 L173.5,677.7 L174,680.4 L174.6,660.4 L175.1,679.5 L175.7,681.9 L176.2,680.2 L176.8,674.6 L177.3,671.3 L177.9,674.9 L178.4,673.4 L179,675.4 L179.5,672.7 L180.1,672.9 L180.6,664 L181.2,674 L181.2,672.9 L181.5,651.6 L181.7,674.2 L181.8,674 L182.3,671.4 L182.8,675.4 L183.4,674.9 L183.9,678.4 L184.5,678.5 L185,678.1 L185.6,681.7 L186.1,677.5 L186.7,672.5 L187.2,671.8 L187.8,674.8 L188.3,665.5 L188.9,686.1 L189.4,685.1 L190,674.3 L190.5,673.1 L191.1,672.1 L191.6,678.3 L192.2,674 L192.7,686 L193.3,681.8 L193.8,682.7 L194.4,672.3 L194.9,673.8 L195.5,672.7 L195.7,674 L196,648 L196,678.7 L196.3,674 L196.6,677.5 L197.1,671.4 L197.7,671.9 L198.2,691.7 L198.8,678.5 L199.3,649 L199.9,674.8 L200.4,670.3 L201,670.9 L201.5,678.1 L202.1,654.8 L202.6,665.6 L203.2,680.1 L203.7,672.3 L204.3,678.8 L204.8,667.8 L205.4,679.3 L205.9,681.7 L206.5,682.5 L207,680.5 L207.6,671.3 L208.1,677 L208.7,677.2 L209.2,674 L209.2,672.8 L209.5,652.8 L209.8,677.5 L209.8,674 L210.3,674.9 L210.9,676.3 L211.4,674.2 L212,670 L212.5,673 L213.1,676.5 L213.6,666.8 L214.2,676.9 L214.7,676.9 L215.3,672.3 L215.8,681.2 L216.4,675.6 L216.9,669.4 L217.5,676.7 L218,682.5 L218.6,676.6 L219.1,675.4 L219.7,680.9 L220.2,662 L220.8,675.8 L221.3,685.6 L221.9,675.3 L222.4,683.7 L223,681.4 L223.5,684.3 L224.1,678.7 L224.6,674.9 L225,674 L225.2,666 L225.3,651.6 L225.7,674 L225.7,676.3 L226.3,670.8 L226.8,677.2 L227.4,677.1 L227.9,672.1 L228.5,670.9 L229,685.3 L229.6,675.7 L230.1,674.5 L230.7,678.4 L231.2,672.9 L231.8,681.7 L232.3,678.9 L232.9,670.5 L233.4,671.6 L234,645 L234.5,645 L235.1,679.2 L235.6,681.8 L236.2,655.3 L236.7,674.2 L237.3,674.1 L237.8,666.4 L238.4,664.5 L238.9,680.1 L239.5,671.8 L239.7,674 L240,650.4 L240,678.1 L240.3,674 L240.6,667.7 L241.1,645 L241.7,686.2 L242.2,678 L242.8,682.3 L243.3,692 L243.9,680.1 L244.4,678.9 L245,674.8 L245.5,684.7 L246.1,679.8 L246.6,654.9 L247.2,683.3 L247.7,654.4 L248.3,678.7 L248.8,679.5 L249,674 L249.3,618 L249.4,662.2 L249.7,674 L249.9,676.6 L250.5,671.5 L251,674.2 L251.6,667.2 L251.7,674 L252,632 L252.1,674.2 L252.3,674 L252.7,670 L253.2,669.6 L253.8,677.6 L254.3,675.1 L254.9,668.8 L255.4,680.1 L256,688.7 L256.5,676.4 L257.1,674.8 L257.6,677.9 L258.2,665.5 L258.7,667.5 L259.3,682.3 L259.8,687.3 L260.4,681.5 L260.9,678.2 L261.5,669.1 L262,676.2 L262.6,679.7 L263.1,673.2 L263.7,684.3 L264.2,672 L264.8,681.4 L265,674 L265.3,675.3 L265.4,650.4 L265.8,674 L265.9,675.5 L266.4,677.7 L267,684 L267.5,677.5 L268.1,667.8 L268.6,676.3 L269.2,645 L269.7,673.6 L270.3,677.2 L270.8,679.8 L271.4,687.4 L271.9,675.9 L272.5,681.7 L273,682.3 L273.6,664.9 L274.1,671.5 L274.7,680.9 L275.2,678.8 L275.8,675.2 L276.3,682.9 L276.9,676.7 L277.4,674.2 L278,675.7 L278.5,685.5 L279.1,676.4 L279.6,687 L280.2,682.5 L280.7,679.7 L280.8,674 L281.2,649.2 L281.3,675.4 L281.6,674 L281.8,676.7 L282.4,670 L282.9,668.1 L283.5,679.9 L284,683.3 L284.6,681.5 L285.1,686.7 L285.7,683.3 L286.2,672.7 L286.8,677.5 L287.3,674.6 L287.9,658.6 L288.4,677.8 L289,676.3 L289.5,679.1 L290.1,668.3 L290.6,684.2 L291.2,682.3 L291.7,678.6 L292.3,675.3 L292.8,679.3 L293.4,678.9 L293.9,683.2 L294.5,678.5 L295,653.9 L295.6,679.3 L296.1,679 L296.7,676.6 L297.2,675.7 L297.8,685.6 L298.3,676.8 L298.9,676.2 L299.4,683.3 L300,684.3 L300.5,682.1 L301.1,678 L301.6,673.8 L302.2,674.2 L302.7,677.2 L303.3,676.7 L303.8,649 L304.4,668.5 L304.9,669.9 L305.5,671.7 L306,673.3 L306.6,669.1 L307.1,681.5 L307.7,674.9 L308.2,680.7 L308.8,687.8 L309.3,682.2 L309.9,674.6 L310,674 L310.4,648 L310.4,682.5 L310.8,674 L311,667.4 L311.5,684.1 L312.1,674.3 L312.6,681.8 L313.2,681.5 L313.7,677.8 L314.3,682.3 L314.8,679 L315.4,686.7 L315.9,679.1 L316.5,672.5 L317,674.2 L317.6,681 L318.1,667.4 L318.7,664.6 L319.2,672.2 L319.8,645 L320.3,666.7 L320.9,683 L321.4,680.7 L322,676.6 L322.5,671.1 L323.1,671.7 L323.6,685.1 L324.2,683.6 L324.7,675.6 L325.3,672.8 L325.8,663.5 L326.4,667.8 L326.9,678.1 L327.5,682 L328,672.4 L328.6,670.7 L329.1,657.3 L329.7,664.6 L330.2,677.8 L330.8,678 L331.3,672.5 L331.9,677.5 L332.4,677.3 L333,677.7 L333.5,680.9 L334.1,660 L334.6,667 L335.2,678.6 L335.7,669.6 L336.3,674.1 L336.8,659.1 L337.4,678.2 L337.9,682 L338.5,681.7 L339,672 L339.6,669.2 L340.1,678.9 L340.7,685 L341.2,671.3 L341.8,672 L342.3,673.5 L342.9,681.8 L343.4,675.7 L344,668.6 L344.5,665.1 L345.1,678.9 L345.6,674 L346.2,662.8 L346.7,666.6 L347.3,680.9 L347.8,659.3 L348.4,671 L348.9,694.9 L349.5,678 L350,681.1 L350.6,677.5 L351.1,669.2 L351.7,665.1 L352.2,662.7 L352.8,670.2 L353.3,678.8 L353.9,668.9 L354.4,683.7 L355,677.5 L355.5,677.7 L356.1,677.4 L356.6,683.2 L357.2,671.6 L357.7,675.2 L358.1,674 L358.3,660.7 L358.5,645 L358.8,682.6 L358.9,674 L359.4,679.5 L359.9,672.9 L360.5,663.6 L361,674 L361.3,674 L361.6,681.7 L361.7,639.6 L362.1,674 L362.1,671 L362.7,669.6 L363.2,676.4 L363.8,692.2 L364.3,675 L364.9,664.2 L365.4,671.5 L366,679.4 L366.5,655.7 L367.1,665.3 L367.6,669.5 L368.2,669.5 L368.7,671.8 L369.3,675 L369.8,669.7 L370.4,670 L370.9,673.2 L371.5,676.7 L372,677.6 L372.6,680.8 L373.1,666 L373.7,677.6 L374.2,673.6 L374.8,676.2 L375.3,682.7 L375.9,686.2 L376.4,683.9 L377,684.2 L377.5,679.9 L378.1,677.4 L378.6,673.3 L379.2,677.1 L379.7,674.6 L380.3,683.4 L380.8,678.1 L381.4,676.5 L381.9,676.9 L382.5,682.7 L383,673.5 L383.6,678.6 L384.1,675.9 L384.7,682.1 L385.2,681.7 L385.8,680.7 L386.3,662.1 L386.9,667.7 L387.4,666.9 L388,671.3 L388.5,677.3 L389.1,678.5 L389.6,676.3 L390.2,673.2 L390.7,677.1 L391.3,677.2 L391.8,677 L392.4,676.5 L392.9,669.1 L393.5,671.7 L394,681.7 L394.6,675.9 L395.1,683.5 L395.7,682.9 L396.2,681.5 L396.8,677.7 L397.3,684.2 L397.9,681.3 L398.4,680.5 L399,681.8 L399.5,682 L400.1,680.4 L400.6,673.3 L401.2,672 L401.7,678.1 L402.3,683.1 L402.8,677.3 L403.4,681 L403.9,680.1 L404.5,677.6 L405,668.4 L405.6,670 L406.1,675.8 L406.7,681.7 L407.2,674.8 L407.8,673.3 L408.3,677 L408.9,676.9 L409.4,673.8 L410,673.9 L410.5,680.8 L411.1,655.8 L411.6,681.9 L412.2,687.4 L412.7,671.7 L413.3,686.8 L413.8,679.5 L414.4,667.7 L414.9,659.9 L415.5,678.4 L416,678.1 L416.6,670.7 L417.1,687.1 L417.7,678.1 L418.2,658.9 L418.6,674 L418.8,675.2 L419,651 L419.3,671.1 L419.4,674 L419.9,663.8 L420.4,669.4 L421,678.2 L421.5,676.1 L422.1,669.6 L422.6,674.7 L423.2,673.8 L423.7,686.5 L424.3,669.4 L424.8,669.8 L424.8,674 L425.2,648.5 L425.4,667 L425.6,674 L425.9,669.1 L426.5,681.1 L427,676.8 L427.6,648.3 L428.1,674.3 L428.7,674.3 L429.2,658.7 L429.8,674.3 L430.3,675.3 L430.9,680.4 L431.4,680.6 L432,670.9 L432.5,675 L433.1,668.1 L433.6,680.3 L434.2,686.1 L434.7,678.2 L435.3,662 L435.8,668.4 L436.4,684.3 L436.9,679.9 L437.5,669.7 L438,679 L438.6,675.8 L439.1,681.1 L439.7,672.2 L440.2,684.5 L440.8,659.4 L441.3,668 L441.9,667.7 L442.4,683.6 L443,645 L443.5,645 L444.1,680 L444.6,674.5 L445.2,682.7 L445.7,676.1 L446.3,677.9 L446.8,670.3 L447.4,677.8 L447.9,681.5 L448.5,677.5 L449,673 L449.6,673.5 L450.1,673.2 L450.7,676.8 L451.2,677.2 L451.8,670.7 L452.3,675.4 L452.9,674.3 L453.4,679.6 L454,664.1 L454.5,678.6 L455.1,676.8 L455.6,677.1 L456.2,683.1 L456.7,676.8 L457.3,678.7 L457.8,676.2 L458.4,676.3 L458.9,673.1 L459.5,678.1 L460,684.2 L460.6,665.8 L461.1,667 L461.7,680.3 L462.2,674 L462.8,682.3 L463.3,677.6 L463.9,680.6 L464.4,675.9 L465,680.4 L465.5,682 L466.1,677.2 L466.6,671.4 L467.2,670.3 L467.7,677.8 L468.3,679.2 L468.8,676.6 L469.4,676.1 L469.9,676.9 L470.5,683.1 L471,669.9 L471.6,675.4 L472.1,674.2 L472.7,684 L473.2,676.4 L473.8,658.6 L474.3,666.7 L474.9,678.6 L475.4,686.4 L476,668.9 L476.5,669.6 L477.1,675.5 L477.6,679.3 L478.2,675.3 L478.7,675.7 L479.3,679.4 L479.8,674.2 L480.4,681.1 L480.9,674.4 L481.5,680.8 L482,678.3 L482.6,678.7 L483.1,678.6 L483.7,678 L484.2,666.4 L484.8,673.6 L485.3,678.1 L485.9,655.2 L486.4,656.4 L487,678.1 L487.5,680.3 L488.1,674.4 L488.6,672.2 L489.2,671.4 L489.7,675 L490.3,679.5 L490.8,676.8 L491.4,675.3 L491.9,676.1 L492.5,677.1 L493,676.5 L493.6,675.5 L494.1,679.2 L494.7,665.6 L495.2,681.5 L495.8,678.7 L496.3,684.7 L496.9,669.7 L497.4,682.9 L498,677.2 L498.5,670 L499.1,671 L499.6,681.3 L500.2,672.4 L500.7,669.7 L501.3,675.2 L501.8,681.4 L502.4,680.6 L502.9,670.3 L503.5,680.2 L504,679 L504.6,678.5 L505.1,672.1 L505.7,666.1 L506.2,677.1 L506.8,664.9 L507.3,679.3 L507.9,676.4 L508.4,677.6 L509,677.4 L509.5,677.3 L510.1,682.6 L510.6,665.7 L511.2,670.1 L511.7,685.1 L512.3,680.9 L512.8,647.5 L513.4,655.8 L513.9,674.8 L514.5,680.7 L515,665.4 L515.6,671.6 L516.1,654.3 L516.7,645 L517.2,670.2 L517.8,668.2 L518.3,675.7 L518.8,674 L518.9,686.9 L519.1,440 L519.4,679.1 L519.5,674 L520,674 L520.5,680.1 L521.1,645 L521.6,676.8 L522.2,663.9 L522.7,663.7 L523.3,670.2 L523.8,688.7 L524.4,645 L524.9,671 L525.5,668.8 L526,672.6 L526.6,681.5 L527.1,687.1 L527.7,679.2 L528.2,674.9 L528.8,669.7 L529.3,672.1 L529.9,686.9 L530.4,676.4 L531,673.3 L531.5,677.9 L532.1,671 L532.6,668.7 L533.2,671.1 L533.7,673.5 L534.3,685.7 L534.8,696 L535.4,674.1 L535.9,677.1 L536.5,679.7 L537,671.8 L537.6,688.7 L538.1,645 L538.7,645 L539.2,679.1 L539.8,679.4 L540.3,680.3 L540.9,676.8 L541.4,671.4 L542,682.4 L542,674 L542.4,632 L542.5,685.1 L542.8,674 L543.1,679.8 L543.6,677.4 L544.2,668 L544.7,684.8 L545.3,678.2 L545.8,681.2 L546.4,672.6 L546.9,664.2 L547.5,678.6 L548,661.5 L548.6,671.4 L549.1,685.2 L549.7,681 L550.2,678.4 L550.8,672.7 L551.3,671.2 L551.9,672.8 L552.4,669.1 L553,674.9 L553.5,678.6 L554.1,674.6 L554.6,663.6 L555.2,675.8 L555.7,680.4 L556.3,680.1 L556.8,676.3 L557.4,678.6 L557.9,674.2 L558.5,669.8 L559,671.9 L559.6,678.9 L560.1,678.9 L560.7,655.1 L561.2,676.5 L561.8,669.1 L562.3,668.7 L562.9,682.8 L563.4,683.8 L564,672.6 L564.5,677 L565.1,645 L565.6,653.3 L566.2,679 L566.7,681.4 L567.3,685.4 L567.8,674.8 L568.1,674 L568.4,680.8 L568.5,650.4 L568.9,674 L568.9,677.8 L569.5,680.3 L570,669.1 L570.6,682.9 L571.1,680.1 L571.7,670.9 L572.2,673.4 L572.8,671.2 L573.3,677.7 L573.9,686.5 L574.4,678.6 L575,682.2 L575.5,663.5 L576.1,663.5 L576.6,666.3 L577.2,669.3 L577.7,675.2 L578.3,673.9 L578.8,672.9 L579.4,682.1 L579.9,677 L580.5,677.4 L581,673 L581.6,676.9 L582.1,679.4 L582.7,681.7 L583.2,680.9 L583.8,688.1 L584.3,662.9 L584.9,664.6 L585.4,677.3 L586,675 L586.5,676.5 L587.1,665.2 L587.6,676.3 L588.2,681.4 L588.7,681.6 L589.3,670.3 L589.8,673.3 L590.4,676.6 L590.9,685.5 L591.5,673.8 L592,674.2 L592.6,671.9 L593.1,672.7 L593.7,676.9 L594.2,672.1 L594.8,680.1 L595.3,685.5 L595.9,679.9 L596.4,662.2 L597,683.9 L597.5,687.1 L598.1,676.5 L598.6,678.9 L599.2,676.4 L599.6,674 L599.7,674.5 L600,649 L600.3,678.1 L600.4,674 L600.8,657.5 L601.4,677.1 L601.9,678.1 L602.5,679.7 L603,682.5 L603.6,659.3 L604.1,679.9 L604.7,671.8 L605.2,677.9 L605.8,692.4 L606.3,678.9 L606.8,677.4 L607.4,678 L607.9,674.9 L608.5,672.5 L609,680.1 L609.6,671.8 L610.1,671.6 L610.7,676.6 L611.2,673.5 L611.8,674.6 L612.3,681 L612.9,680.4 L613.4,682.3 L614,667.9 L614.5,679.9 L615.1,676.7 L615.6,680.9 L616.2,670 L616.7,677.6 L617.3,675.3 L617.8,678.7 L618.4,678.2 L618.9,676.9 L619.5,675.5 L620,676.3 L620.6,679.2 L621.1,676.2 L621.7,677.1 L622.2,677.1 L622.8,672 L623.3,675 L623.9,674.8 L624.4,667.2 L625,678.6 L625.5,678.2 L626.1,676.5 L626.6,682.5 L627.2,674.1 L627.7,683.8 L628.3,678.7 L628.8,675.9 L629.4,666.3 L629.9,668.2 L630.5,679.2 L631,676.3 L631.6,675.2 L632.1,674.3 L632.7,672.3 L633.2,676.3 L633.8,677.5 L634.3,672.6 L634.9,678.6 L635.4,679.6 L636,669.5 L636.5,671.4 L637.1,671.1 L637.6,681.4 L638.2,675.4 L638.7,679.4 L639.3,669.9 L639.8,671 L640.4,680.8 L640.9,673 L641.5,676.6 L642,678.3 L642.6,675.7 L643.1,678.7 L643.7,682.5 L644.2,689.6 L644.8,676.9 L645.3,680.1 L645.9,676.5 L646.4,674 L646.4,674.5 L646.7,641 L647,675.8 L647.1,674 L647.5,678.1 L648.1,674.6 L648.6,680.9 L649.2,676.8 L649.7,677.1 L650.3,678.4 L650.8,682.5 L651.4,682.9 L651.9,679.6 L652.5,675.4 L653,664.6 L653.6,678.5 L654.1,684.8 L654.7,678.7 L655.2,686.3 L655.8,672 L656.3,678.2 L656.9,679.3 L657.4,645 L658,678.9 L658.5,680.1 L659.1,678.2 L659.6,675.2 L660.2,674.5 L660.7,680.5 L661.3,675 L661.8,674.2 L662.4,677.7 L662.9,678 L663.5,674.6 L664,680.2 L664.6,665.1 L665.1,666.1 L665.7,677.9 L666.2,680 L666.8,682 L667.3,679.1 L667.9,675 L668.4,682 L669,676.1 L669.5,676.8 L670.1,669.3 L670.6,678.6 L671.2,677.5 L671.7,680.4 L672.3,675.8 L672.8,675.9 L673.4,692.2 L673.9,677.5 L674.5,676.9 L675,674.1 L675.6,680.1 L676.1,675.1 L676.7,674.8 L677.2,676.2 L677.8,676.2 L678.3,675.8 L678.9,673.9 L679.4,675.5 L680,674.1 L680.5,676.4 L681.1,679.5 L681.6,682.6 L682.2,680 L682.7,676.5 L683.3,678.2 L683.8,676.8 L684.4,676 L684.9,681.2 L685.5,680.2 L686,670.5 L686.6,667.4 L687.1,669.7 L687.7,671.9 L688.2,678.9 L688.8,665.9 L689.3,673.3 L689.9,661.1 L690.4,677.7 L691,679.2 L691.5,672.5 L692.1,678.7 L692.6,678.9 L693.2,670.8 L693.7,655.6 L694.3,657.3 L694.8,666.1 L695.4,665.5 L695.9,676.3 L696.5,671.4 L697,672 L697.6,672 L698.1,681.7 L698.7,664.7 L699.2,667.3 L699.4,674 L699.8,670.3 L699.8,647 L700.1,674 L700.3,645 L700.9,667.9 L701.4,670.8 L702,663.6 L702.5,668 L703.1,670.5 L703.6,667.4 L704.2,672.9 L704.7,672.6 L705.3,678.1 L705.8,680.4 L706.4,659.7 L706.9,665.8 L707.5,686.3 L708,678.2 L708.6,683.8 L709.1,683.8 L709.7,677.5 L710.2,680.4 L710.8,674.5 L711.3,680.5 L711.9,672.3 L712.4,671.6 L713,674.8 L713.5,680.2 L714.1,674.7 L714.6,668.3 L715.2,676.5 L715.7,677.1 L716.3,681.2 L716.8,673.3 L717.4,673.8 L717.9,665.5 L718.5,673 L719,680.5 L719.6,682.4 L720.1,676.5 L720.7,645 L721.2,654.8 L721.8,660.1 L722.3,661.6 L722.9,670 L723.4,669.6 L724,669 L724.5,671 L725.1,684.1 L725.6,680.8 L726.2,666 L726.7,670.5 L727.3,662.5 L727.8,646.4 L728.4,682.9 L728.9,681.5 L729.5,674.4 L729.9,674 L730,653.4 L730.2,644 L730.6,674 L730.6,682.8 L731.1,687 L731.7,678.7 L732.2,683.1 L732.8,679.9 L733.3,676.9 L733.9,673.8 L734.4,682 L735,684.3 L735.5,645 L736.1,682.3 L736.6,681 L737.2,645.8 L737.7,676.6 L738.3,670.8 L738.8,672.9 L739.4,675.6 L739.9,683.2 L740,674 L740.4,599 L740.5,679.1 L740.8,674 L741,669.1 L741.6,671.1 L742.1,685.3 L742.7,673.1 L743.2,674.7 L743.8,671.7 L744.3,668.8 L744.9,671.7 L745.4,671.6 L746,678.4 L746.5,679 L747.1,681.6 L747.6,681.5 L748.2,682.1 L748.7,674.2 L749.3,651.4 L749.8,662.3 L750.4,679.5 L750.9,657.2 L751.5,665.8 L752,675.2 L752.6,652.3 L753.1,654.6 L753.7,674.2 L754.2,679.8 L754.8,680.5 L755.3,664.8 L755.9,669.7 L756.4,674.8 L757,677.1 L757.5,678 L758.1,681 L758.6,675.6 L759.2,682.2 L759.7,669.2 L760.3,676.8 L760.8,665.8 L761.4,667.2 L761.9,675.8 L762.5,671.6 L763,681.1 L763.6,668.9 L764.1,667.6 L764.7,682.9 L765.2,664.9 L765.8,669.7 L766.3,687 L766.9,671.3 L767.4,675 L768,678.4 L768.5,675.9 L769.1,677.1 L769.6,680.2 L770.2,667.8 L770.7,674.2 L771.3,672.4 L771.8,675.6 L772.4,677.1 L772.9,672.5 L773.5,674.2 L774,682.3 L774.6,682.4 L775.1,672.6 L775.7,674.9 L776.2,673.3 L776.8,675.4 L777.3,674.4 L777.9,678.6 L778.4,679.1 L779,680 L779.5,681.8 L780.1,664.4 L780.6,664.6 L781.2,645 L781.7,647.4 L782.3,676.3 L782.8,670.2 L783.4,674 L783.4,689.6 L783.7,649 L783.9,675.7 L784.1,674 L784.5,675.4 L785,674.9 L785.6,674.6 L786.1,670.6 L786.7,683.7 L787.2,664.4 L787.8,667.5 L788.3,661.6 L788.9,666.2 L789.4,668.8 L790,670.7 L790.5,667.8 L791.1,656.4 L791.6,657.9 L792.2,683.5 L792.7,645.2 L793.3,657.9 L793.8,680.4 L794.4,664.3 L794.9,680.8 L795.5,670.6 L796,671.6 L796,674 L796.4,625.9 L796.6,686.9 L796.8,674 L797.1,659 L797.7,668.7 L798.2,663.4 L798.8,671.2 L799.3,665.8 L799.9,666 L800.4,679.1 L800.9,674 L801,667.4 L801.3,642.6 L801.5,670.9 L801.6,674 L802.1,668.7 L802.6,669.9 L803.2,657.2 L803.7,677.2 L804.3,675.8 L804.8,688 L805.4,681.7 L805.9,673.5 L806.5,681 L807,674.7 L807.6,684.5 L808.1,679.8 L808.7,679.2 L809.2,674.8 L809.8,675.4 L810.3,688 L810.9,681.1 L811.4,670.6 L811.6,674 L812,672.9 L812,649.5 L812.4,674 L812.5,672.4 L813.1,672.2 L813.6,645 L814.2,692.8 L814.7,682.2 L815.3,669.9 L815.8,659.6 L816.4,662.4 L816.9,687.9 L817.5,680.5 L818,686.6 L818.6,670.6 L819.1,645 L819.7,685.1 L820.2,687.8 L820.8,651.5 L821.3,670 L821.9,674.2 L822.4,678.9 L823,671.6 L823.5,671.7 L823.6,674 L824,645.6 L824.1,658.9 L824.4,674 L824.6,665.9 L825.2,686.3 L825.7,684.3 L826.3,681.8 L826.8,694 L827.4,673.2 L827.9,680.3 L828.5,669.6 L829,664.7 L829.6,675.8 L830.1,667.3 L830.7,671.2 L831.2,676.3 L831.8,683.9 L832.3,662.2 L832.9,669.9 L833.4,674 L833.4,670.9 L833.7,654 L834,645 L834.1,674 L834.5,645 L835.1,670.4 L835.6,685.1 L836.2,682.1 L836.7,678.6 L837.3,656.7 L837.8,668.2 L838.4,682.1 L838.9,689.2 L839.5,685.5 L840,671.9 L840.6,682.4 L841.1,683.8 L841.7,678.6 L842.2,675 L842.8,671.3 L843.2,674 L843.3,681.5 L843.6,627.9 L843.9,677.7 L844,674 L844.4,672.7 L845,665.6 L845.5,669.1 L846.1,681.8 L846.6,681.3 L847.2,680 L847.7,682.7 L848.3,673.7 L848.6,674 L848.8,667 L849,618 L849.4,674 L849.4,673.5 L849.9,679.9 L850.5,681.3 L851,646.4 L851.6,653.5 L852,674 L852.1,666.7 L852.4,632.8 L852.7,673.6 L852.8,674 L853.2,667.1 L853.8,645 L854.3,645 L854.9,653.7 L855.4,673 L856,674.5 L856.5,670 L857.1,676.2 L857.6,678.5 L858.2,655.6 L858.7,657.2 L859.3,669.8 L859.8,689.1 L860.4,670.9 L860.9,672.7 L861.5,652.6 L862,662.2 L862.6,679.6 L863.1,675.3 L863.7,676 L864.2,678.6 L864.8,681.8 L865.3,677.6 L865.9,676.1 L866.4,680.8 L867,674.5 L867.4,674 L867.5,673.7 L867.7,651.5 L868.1,674 L868.1,680.1 L868.6,679 L869.2,676.8 L869.7,681 L870.3,677.4 L870.8,679.7 L871.4,662.3 L871.9,666.3 L872.5,677.7 L873,669.3 L873.6,675.8 L874.1,682.4 L874.7,678.4 L875.2,681 L875.8,674.3 L876.3,678 L876.9,673.5 L877.4,678.8 L878,683.3 L878.5,683.3 L879.1,676.9 L879.6,676 L880.2,681.2 L880.7,677.5 L881.3,676.7 L881.8,675.3 L882.4,674.3 L882.5,674 L882.9,653 L882.9,673.3 L883.2,674 L883.5,654.1 L884,679 L884.6,675.9 L885.1,683.9 L885.7,680.1 L886.2,681.7 L886.8,673.6 L887.3,678.8 L887.9,682.1 L888.4,670.6 L889,678.3 L889.5,680 L890.1,671.4 L890.6,672.6 L891.2,677 L891.7,685.2 L891.8,674 L892.1,639.7 L892.3,683.5 L892.5,674 L892.8,681.5 L893.4,679.8 L893.9,678 L894.5,676.5 L895,670.4 L895.6,668 L896.1,675.5 L896.7,671.6 L897.2,675.5 L897.8,670.6 L898.3,674 L898.9,678.5 L899.4,676.3 L900,682.7 L900.5,679.7 L901.1,681.9 L901.6,676 L902.2,675.9 L902.7,678.4 L903.3,679 L903.8,680.3 L904.4,678.8 L904.9,678.4 L905.5,681.8 L906,668.9 L906.6,680.7 L907.1,677.4 L907.7,677.6 L908.2,677.4 L908.8,680 L909.3,679.5 L909.9,674.8 L910.4,673.7 L911,677.7 L911.5,679.9 L912.1,672.9 L912.6,672.3 L913.2,673 L913.7,665.4 L914.3,665.1 L914.8,676.8 L915.4,677 L915.9,679.3 L916.5,682 L917,678.1 L917.6,668.5 L918.1,670.7 L918.7,676.3 L919.2,679.7 L919.8,679.4 L920.3,674.5 L920.9,675.4 L921.4,687 L922,679.9 L922.5,676.2 L923.1,674.4 L923.6,680.5 L924.2,663.1 L924.7,676.3 L925.3,684.4 L925.8,673.2 L926.4,674.5 L926.9,680.2 L927.5,675.5 L928,680.9 L928.6,680.1 L929.1,678.7 L929.7,680.7 L930.2,678.2 L930.8,679.2 L931.3,674.7 L931.9,679.2 L932.4,683.4 L933,679.8 L933.5,675.9 L934.1,676.8 L934.6,679.6 L935.2,678.5 L935.7,678.7 L936.3,679.2 L936.8,663.2 L937.4,677.6 L937.9,665.6 L938.5,667 L939,679.5 L939.6,678.7 L940.1,678.6 L940.7,672.2" stroke="#ed1c24" stroke-width="1.8" stroke-linejoin="miter" stroke-linecap="butt"/>
<path d="M94.6,690.6 C94.9,690.5 95.1,689.8 96.5,690 C97.9,690.2 101,690.4 103.2,691.6 C105.5,692.8 107.7,694.9 110,697.1 C112.3,699.3 114.7,702 116.8,704.7 C118.9,707.4 121,709.9 122.7,713.1 C124.4,716.3 125.6,720.6 126.9,724.1 C128.2,727.6 129.3,731.9 130.3,734.3 C131.3,736.7 131.8,738.4 132.8,738.5 C133.8,738.6 135.1,736.5 136.2,735.1 C137.3,733.7 138.5,731.1 139.6,730 C140.7,728.9 141.7,729.8 143,728.3 C144.3,726.8 145.6,723.8 147.2,720.7 C148.8,717.6 150.6,713.1 152.3,709.7 C154,706.3 155.6,703.1 157.3,700.4 C159,697.7 160.7,695.2 162.4,693.7 C164.1,692.2 165.2,691.8 167.5,691.6 C169.8,691.5 172.8,692.4 175.9,692.8 C179,693.1 183,693 186.1,693.7 C189.2,694.4 192.1,695.6 194.6,697.1 C197.1,698.6 199.2,701.2 201.3,703 C203.4,704.8 205.4,707.5 207.2,708.1 C209,708.7 210.6,705.9 212.3,706.4 C214,706.9 215.9,709 217.4,711.4 C218.9,713.8 220.2,718 221.6,720.7 C223,723.4 224.2,726.9 225.8,727.5 C227.4,728.1 229.4,726.2 230.9,724.1 C232.4,722 233.6,717.5 235.1,714.8 C236.6,712.1 238.4,709.5 240.2,708.1 C242,706.7 244,708 245.9,706.4 C247.8,704.8 250,700.4 251.8,698.8 C253.6,697.2 254.9,696.3 256.9,696.7 C258.9,697.1 261.4,701.1 263.7,701.3 C265.9,701.5 268.1,699.3 270.4,697.9 C272.6,696.5 274.9,693.7 277.2,692.8 C279.5,691.9 281.8,692.1 284,692.3 C286.2,692.4 288.4,693.2 290.7,693.7 C292.9,694.2 295.2,693.9 297.5,695 C299.8,696.1 302.1,699.3 304.3,700.4 C306.6,701.5 308.8,701.4 311,701.8 C313.2,702.1 315.8,703 317.8,702.5 C319.8,702 321.3,700 322.9,698.8 C324.4,697.6 325.6,695.3 327.1,695.4 C328.7,695.5 330.4,697.8 332.2,699.6 C334,701.4 336,704.6 338.1,706.4 C340.2,708.2 342.9,708.8 344.9,710.6 C346.9,712.4 348.2,714.3 349.9,717.4 C351.6,720.5 353.6,725.6 355,729.2 C356.4,732.9 357.3,738.2 358.4,739.3 C359.5,740.4 360.5,739.4 361.8,736 C363.1,732.6 364.6,723 366,719 C367.4,715 368.6,713.8 370.2,712.3 C371.8,710.8 374.2,712.5 375.3,709.7 C376.4,706.9 376.3,698.9 377,695.4 C377.7,691.9 378.1,689.2 379.5,688.6 C380.9,688 383.5,690.2 385.6,691.6 C387.8,693 390.2,694.9 392.4,697.1 C394.7,699.3 397.1,702 399.2,704.7 C401.4,707.4 403.5,709.9 405.1,713.1 C406.8,716.3 408.1,720.6 409.4,724.1 C410.6,727.6 411.8,731.9 412.8,734.3 C413.7,736.7 414.3,738.4 415.2,738.5 C416.2,738.6 417.5,736.5 418.6,735.1 C419.8,733.7 420.9,731.1 422,730 C423.2,728.9 424.2,729.8 425.4,728.3 C426.7,726.8 428.1,723.8 429.6,720.7 C431.2,717.6 433.1,713.1 434.8,709.7 C436.4,706.3 438.1,703.1 439.8,700.4 C441.4,697.7 443.2,695.2 444.9,693.7 C446.6,692.2 447.7,691.8 449.9,691.6 C452.2,691.5 455.2,692.4 458.4,692.8 C461.5,693.1 465.4,693 468.5,693.7 C471.7,694.4 474.5,695.6 477,697.1 C479.6,698.6 481.6,701.2 483.8,703 C485.9,704.8 487.8,707.5 489.6,708.1 C491.5,708.7 493.1,705.9 494.8,706.4 C496.4,706.9 498.3,709 499.9,711.4 C501.4,713.8 502.6,718 504,720.7 C505.4,723.4 506.7,726.9 508.2,727.5 C509.8,728.1 511.8,726.2 513.4,724.1 C514.9,722 516,717.5 517.5,714.8 C519.1,712.1 520.8,709.5 522.6,708.1 C524.5,706.7 526.4,708 528.4,706.4 C530.3,704.8 532.4,700.4 534.2,698.8 C536.1,697.2 537.4,696.3 539.3,696.7 C541.3,697.1 543.9,701.1 546.1,701.3 C548.4,701.5 550.6,699.3 552.8,697.9 C555.1,696.5 557.4,693.7 559.6,692.8 C561.9,691.9 564.2,692.1 566.5,692.3 C568.7,692.4 570.9,693.2 573.1,693.7 C575.4,694.2 577.7,693.9 580,695 C582.2,696.1 584.5,699.3 586.8,700.4 C589,701.5 591.2,701.4 593.5,701.8 C595.7,702.1 598.3,703 600.2,702.5 C602.2,702 603.8,700 605.3,698.8 C606.9,697.6 608,695.3 609.5,695.4 C611.1,695.5 612.8,697.8 614.6,699.6 C616.5,701.4 618.4,704.6 620.5,706.4 C622.7,708.2 625.4,708.8 627.3,710.6 C629.3,712.4 630.7,714.3 632.3,717.4 C634,720.5 636,725.6 637.5,729.2 C638.9,732.9 639.7,738.2 640.8,739.3 C642,740.4 643,739.4 644.2,736 C645.5,732.6 647.1,723 648.5,719 C649.9,715 651.1,713.8 652.6,712.3 C654.2,710.8 656.6,712.5 657.8,709.7 C658.9,706.9 658.8,698.9 659.5,695.4 C660.2,691.9 660.5,689.2 662,688.6 C663.4,688 665.9,690.2 668.1,691.6 C670.3,693 672.6,694.9 674.9,697.1 C677.2,699.3 679.6,702 681.7,704.7 C683.8,707.4 685.9,709.9 687.6,713.1 C689.3,716.3 690.5,720.6 691.8,724.1 C693.1,727.6 694.2,731.9 695.2,734.3 C696.2,736.7 696.7,738.4 697.7,738.5 C698.7,738.6 700,736.5 701.1,735.1 C702.2,733.7 703.4,731.1 704.5,730 C705.6,728.9 706.6,729.8 707.9,728.3 C709.2,726.8 710.5,723.8 712.1,720.7 C713.6,717.6 715.5,713.1 717.2,709.7 C718.9,706.3 720.5,703.1 722.2,700.4 C723.9,697.7 725.6,695.2 727.3,693.7 C729,692.2 730.1,691.8 732.4,691.6 C734.6,691.5 737.7,692.4 740.8,692.8 C743.9,693.1 747.9,693 751,693.7 C754.1,694.4 757,695.6 759.5,697.1 C762,698.6 764.1,701.2 766.2,703 C768.3,704.8 770.3,707.5 772.1,708.1 C773.9,708.7 775.5,705.9 777.2,706.4 C778.9,706.9 780.8,709 782.3,711.4 C783.8,713.8 785.1,718 786.5,720.7 C787.9,723.4 789.2,726.9 790.7,727.5 C792.2,728.1 794.2,726.2 795.8,724.1 C797.3,722 798.5,717.5 800,714.8 C801.5,712.1 803.3,709.5 805.1,708.1 C806.9,706.7 808.9,708 810.8,706.4 C812.7,704.8 814.9,700.4 816.7,698.8 C818.5,697.2 819.8,696.3 821.8,696.7 C823.8,697.1 826.3,701.1 828.6,701.3 C830.8,701.5 833,699.3 835.3,697.9 C837.5,696.5 839.8,693.7 842.1,692.8 C844.4,691.9 846.6,692.1 848.9,692.3 C851.1,692.4 853.3,693.2 855.6,693.7 C857.8,694.2 860.1,693.9 862.4,695 C864.7,696.1 867,699.3 869.2,700.4 C871.5,701.5 873.6,701.4 875.9,701.8 C878.1,702.1 880.7,703 882.7,702.5 C884.7,702 886.2,700 887.8,698.8 C889.3,697.6 890.5,695.3 892,695.4 C893.5,695.5 895.3,697.8 897.1,699.6 C898.9,701.4 900.9,704.6 903,706.4 C905.1,708.2 907.8,708.8 909.8,710.6 C911.8,712.4 913.1,714.3 914.8,717.4 C916.5,720.5 918.5,725.6 919.9,729.2 C921.3,732.9 922.2,738.2 923.3,739.3 C924.4,740.4 925.4,739.4 926.7,736 C928,732.6 929.5,723 930.9,719 C932.3,715 933.5,713.8 935.1,712.3 C936.6,710.8 939.4,710.1 940.2,709.7" stroke="#00a651" stroke-width="8"/>
<path d="M95,649 C95.4,647.9 96.7,644.3 97.5,642.4 C98.3,640.5 98.7,638.8 99.9,637.4 C101.1,636 103.4,635.5 104.9,634.1 C106.4,632.7 107.4,631.3 109.1,629.1 C110.8,626.9 113.2,624.1 114.9,620.8 C116.6,617.5 117.8,615 119,609.2 C120.2,603.4 121.3,595.4 122.3,586 C123.3,576.6 124,563.9 124.8,552.9 C125.6,541.9 126.5,529.2 127.3,519.7 C128.1,510.2 129,501 129.6,496 C130.2,491 130.6,490.8 131,489.5 C131.4,488.2 131.6,488.2 131.9,488.2 C132.2,488.2 132.5,488.2 132.9,489.5 C133.3,490.8 133.5,490.1 134.1,496 C134.7,501.9 135.6,515.8 136.4,524.7 C137.2,533.6 137.9,543.2 138.9,549.6 C139.9,556 140.9,558.9 142.2,562.8 C143.4,566.7 145,568.4 146.4,572.8 C147.8,577.2 149.1,583.5 150.5,589.3 C151.9,595.1 153.3,602.1 154.6,607.6 C155.8,613.1 156.9,618.9 158,622.5 C159.1,626.1 159.9,628.3 161.3,629.1 C162.7,629.9 164.5,627.2 166.2,627.5 C167.8,627.8 169.3,629.7 171.2,630.8 C173.1,631.9 175.7,634.1 177.8,634.1 C179.9,634.1 181.8,632.3 183.7,630.8 C185.6,629.3 187.4,626.9 189.5,625 C191.6,623.1 194.2,622.1 196.1,619.2 C198,616.3 199.4,611.8 201.1,607.6 C202.8,603.5 204.6,597 206,594.3 C207.4,591.6 208.4,591.9 209.5,591.5 C210.6,591.1 211.5,593 212.7,591.8 C213.9,590.6 215.4,589.2 216.8,584.4 C218.2,579.6 219.7,568.7 220.9,562.8 C222.1,556.9 222.9,552.6 223.8,549 C224.7,545.4 225.5,542 226.3,541.3 C227.1,540.6 228,543.1 228.8,545 C229.6,546.9 229.7,547.4 230.9,552.9 C232.1,558.4 234.5,571.4 235.9,577.7 C237.3,584 237.7,585.7 239.2,590.7 C240.7,595.7 243.4,603.6 245.1,607.7 C246.8,611.8 248.2,613.8 249.5,615.5 C250.8,617.2 251.8,617.6 252.8,617.8 C253.8,618 254.7,617.4 255.5,616.5 C256.3,615.6 256.6,614.3 257.8,612.7 C259,611.1 261.1,606.5 262.9,606.8 C264.7,607.1 266.8,611.1 268.8,614.4 C270.8,617.6 273,623.6 274.7,626.3 C276.4,629 277.4,630.2 279,630.5 C280.6,630.8 282.3,629 284,628 C285.7,627 287.3,625.3 289.1,624.6 C290.9,623.9 293.2,624.6 295,623.7 C296.8,622.9 298.3,621.9 300.1,619.5 C301.9,617.1 304.3,611.5 306,609.3 C307.7,607 308.9,605.9 310.3,606 C311.7,606.1 312.8,607.7 314.5,610.2 C316.2,612.7 318.6,618.7 320.4,621.2 C322.2,623.7 323.8,625.7 325.5,625.4 C327.2,625.1 328.8,622.2 330.6,619.5 C332.4,616.8 334.4,612.1 336.5,609.3 C338.6,606.5 341.2,605.1 343.2,602.6 C345.2,600.1 346.6,597.5 348.3,594.1 C350,590.7 352.1,585.1 353.4,582.3 C354.6,579.4 355.1,578.3 355.8,577 C356.5,575.7 357,574.7 357.6,574.7 C358.2,574.7 358.9,575.7 359.6,577 C360.3,578.3 360.9,578 361.8,582.3 C362.7,586.6 364.1,596.7 365.2,602.6 C366.3,608.5 367.6,614.6 368.6,617.8 C369.7,620.9 370.6,620.6 371.5,621.5 C372.4,622.4 372.9,621.3 373.7,622.9 C374.5,624.5 375.5,626.8 376.2,631.3 C376.9,635.8 377,648 377.6,649.9 C378.2,651.8 379.2,644.5 379.9,642.4 C380.7,640.3 381.1,638.8 382.4,637.4 C383.6,636 385.8,635.5 387.4,634.1 C388.9,632.7 389.9,631.3 391.5,629.1 C393.2,626.9 395.7,624.1 397.4,620.8 C399,617.5 400.2,615 401.4,609.2 C402.7,603.4 403.8,595.4 404.8,586 C405.7,576.6 406.4,563.9 407.2,552.9 C408.1,541.9 408.9,529.2 409.8,519.7 C410.6,510.2 411.4,501 412,496 C412.7,491 413.1,490.8 413.4,489.5 C413.8,488.2 414,488.2 414.4,488.2 C414.7,488.2 415,488.2 415.4,489.5 C415.7,490.8 416,490.1 416.5,496 C417.1,501.9 418.1,515.8 418.9,524.7 C419.7,533.6 420.4,543.2 421.4,549.6 C422.3,556 423.4,558.9 424.6,562.8 C425.9,566.7 427.5,568.4 428.9,572.8 C430.2,577.2 431.6,583.5 432.9,589.3 C434.3,595.1 435.8,602.1 437,607.6 C438.3,613.1 439.3,618.9 440.4,622.5 C441.6,626.1 442.4,628.3 443.8,629.1 C445.1,629.9 447,627.2 448.6,627.5 C450.3,627.8 451.7,629.7 453.6,630.8 C455.6,631.9 458.2,634.1 460.2,634.1 C462.3,634.1 464.2,632.3 466.1,630.8 C468.1,629.3 469.9,626.9 471.9,625 C474,623.1 476.6,622.1 478.5,619.2 C480.5,616.3 481.9,611.8 483.5,607.6 C485.2,603.5 487,597 488.4,594.3 C489.9,591.6 490.8,591.9 491.9,591.5 C493.1,591.1 493.9,593 495.1,591.8 C496.4,590.6 497.9,589.2 499.2,584.4 C500.6,579.6 502.2,568.7 503.4,562.8 C504.5,556.9 505.4,552.6 506.2,549 C507.1,545.4 507.9,542 508.8,541.3 C509.6,540.6 510.5,543.1 511.2,545 C512,546.9 512.2,547.4 513.4,552.9 C514.5,558.4 517,571.4 518.4,577.7 C519.7,584 520.1,585.7 521.6,590.7 C523.2,595.7 525.8,603.6 527.5,607.7 C529.3,611.8 530.7,613.8 532,615.5 C533.2,617.2 534.2,617.6 535.2,617.8 C536.2,618 537.1,617.4 538,616.5 C538.8,615.6 539,614.3 540.2,612.7 C541.5,611.1 543.5,606.5 545.3,606.8 C547.2,607.1 549.3,611.1 551.2,614.4 C553.2,617.6 555.4,623.6 557.1,626.3 C558.9,629 559.9,630.2 561.5,630.5 C563,630.8 564.8,629 566.5,628 C568.1,627 569.7,625.3 571.5,624.6 C573.4,623.9 575.6,624.6 577.5,623.7 C579.3,622.9 580.7,621.9 582.5,619.5 C584.4,617.1 586.8,611.5 588.5,609.3 C590.2,607 591.3,605.9 592.8,606 C594.2,606.1 595.3,607.7 597,610.2 C598.6,612.7 601,618.7 602.8,621.2 C604.7,623.7 606.2,625.7 608,625.4 C609.7,625.1 611.2,622.2 613,619.5 C614.9,616.8 616.9,612.1 619,609.3 C621.1,606.5 623.7,605.1 625.6,602.6 C627.6,600.1 629,597.5 630.8,594.1 C632.5,590.7 634.6,585.1 635.8,582.3 C637.1,579.4 637.5,578.3 638.2,577 C639,575.7 639.4,574.7 640,574.7 C640.7,574.7 641.3,575.7 642,577 C642.8,578.3 643.3,578 644.2,582.3 C645.2,586.6 646.5,596.7 647.6,602.6 C648.8,608.5 650,614.6 651,617.8 C652.1,620.9 653.1,620.6 654,621.5 C654.8,622.4 655.4,621.3 656.1,622.9 C656.9,624.5 658,626.8 658.6,631.3 C659.3,635.8 659.4,648 660,649.9 C660.7,651.8 661.6,644.5 662.4,642.4 C663.2,640.3 663.6,638.8 664.8,637.4 C666,636 668.3,635.5 669.8,634.1 C671.3,632.7 672.3,631.3 674,629.1 C675.7,626.9 678.1,624.1 679.8,620.8 C681.4,617.5 682.7,615 683.9,609.2 C685.1,603.4 686.2,595.4 687.2,586 C688.2,576.6 688.9,563.9 689.7,552.9 C690.5,541.9 691.4,529.2 692.2,519.7 C693,510.2 693.9,501 694.5,496 C695.1,491 695.5,490.8 695.9,489.5 C696.3,488.2 696.5,488.2 696.8,488.2 C697.1,488.2 697.4,488.2 697.8,489.5 C698.2,490.8 698.4,490.1 699,496 C699.6,501.9 700.5,515.8 701.3,524.7 C702.1,533.6 702.8,543.2 703.8,549.6 C704.8,556 705.8,558.9 707.1,562.8 C708.3,566.7 709.9,568.4 711.3,572.8 C712.7,577.2 714,583.5 715.4,589.3 C716.8,595.1 718.2,602.1 719.5,607.6 C720.8,613.1 721.8,618.9 722.9,622.5 C724,626.1 724.8,628.3 726.2,629.1 C727.6,629.9 729.4,627.2 731.1,627.5 C732.7,627.8 734.2,629.7 736.1,630.8 C738,631.9 740.6,634.1 742.7,634.1 C744.8,634.1 746.6,632.3 748.6,630.8 C750.5,629.3 752.3,626.9 754.4,625 C756.5,623.1 759.1,622.1 761,619.2 C762.9,616.3 764.4,611.8 766,607.6 C767.6,603.5 769.5,597 770.9,594.3 C772.3,591.6 773.3,591.9 774.4,591.5 C775.5,591.1 776.4,593 777.6,591.8 C778.8,590.6 780.3,589.2 781.7,584.4 C783.1,579.6 784.6,568.7 785.8,562.8 C787,556.9 787.8,552.6 788.7,549 C789.6,545.4 790.4,542 791.2,541.3 C792,540.6 792.9,543.1 793.7,545 C794.5,546.9 794.6,547.4 795.8,552.9 C797,558.4 799.4,571.4 800.8,577.7 C802.2,584 802.6,585.7 804.1,590.7 C805.6,595.7 808.3,603.6 810,607.7 C811.7,611.8 813.1,613.8 814.4,615.5 C815.7,617.2 816.7,617.6 817.7,617.8 C818.7,618 819.6,617.4 820.4,616.5 C821.2,615.6 821.5,614.3 822.7,612.7 C823.9,611.1 826,606.5 827.8,606.8 C829.6,607.1 831.7,611.1 833.7,614.4 C835.7,617.6 837.9,623.6 839.6,626.3 C841.3,629 842.3,630.2 843.9,630.5 C845.5,630.8 847.2,629 848.9,628 C850.6,627 852.2,625.3 854,624.6 C855.8,623.9 858.1,624.6 859.9,623.7 C861.7,622.9 863.2,621.9 865,619.5 C866.8,617.1 869.2,611.5 870.9,609.3 C872.6,607 873.8,605.9 875.2,606 C876.6,606.1 877.7,607.7 879.4,610.2 C881.1,612.7 883.5,618.7 885.3,621.2 C887.1,623.7 888.7,625.7 890.4,625.4 C892.1,625.1 893.7,622.2 895.5,619.5 C897.3,616.8 899.3,612.1 901.4,609.3 C903.5,606.5 906.1,605.1 908.1,602.6 C910.1,600.1 911.5,597.5 913.2,594.1 C914.9,590.7 917,585.1 918.3,582.3 C919.5,579.4 920,578.3 920.7,577 C921.4,575.7 921.9,574.7 922.5,574.7 C923.1,574.7 923.8,575.7 924.5,577 C925.2,578.3 925.8,578 926.7,582.3 C927.6,586.6 929,596.7 930.1,602.6 C931.2,608.5 932.5,614.6 933.5,617.8 C934.5,620.9 935.5,620.6 936.4,621.5 C937.2,622.4 937.8,621.3 938.6,622.9 C939.4,624.5 940.7,629.9 941.1,631.3" stroke="#231f20" stroke-width="4"/>
<line x1="94.5" y1="674.3" x2="941.0" y2="674.3" stroke="#2e3192" stroke-width="8" stroke-linecap="butt"/>
</g>
<text x="88.7" y="728.2" font-size="24.5" font-weight="normal" text-anchor="end">0.95</text>
<text x="82" y="681.6" font-size="24.5" font-weight="normal" text-anchor="end">1</text>
<text x="85" y="588.3" font-size="24.5" font-weight="normal" text-anchor="end">1.1</text>
<text x="86.4" y="495" font-size="24.5" font-weight="normal" text-anchor="end">1.2</text>
<text x="12.4" y="449.2" font-size="34.5" font-weight="bold" text-anchor="start">B</text>
<text x="226.3" y="453.9" font-size="29.6" font-weight="bold" text-anchor="start" textLength="586.4" lengthAdjust="spacingAndGlyphs">Z(s) Ratios for 39 Macaque DLPFC Neurons</text>
<text x="451.5" y="800.4" font-size="28" font-weight="bold" text-anchor="start" textLength="115.5" lengthAdjust="spacingAndGlyphs">seconds</text>
<text transform="translate(24.5,674.8) rotate(-90)" font-size="29" font-weight="bold"><tspan textLength="124" lengthAdjust="spacingAndGlyphs">Z(s) / Z(s)</tspan><tspan font-size="22" dy="11">CL</tspan></text>
<rect x="128.3" y="882.5" width="365" height="176.9" fill="none" stroke="#231f20" stroke-width="1.8"/>
<line x1="493.3" y1="1059.4" x2="496.5" y2="1059.4" stroke="#231f20" stroke-width="1.8"/>
<path d="M139.5,1061.2 L139.5,1029.3 L147,1029.3 L147,1046 L161.7,1046 L161.7,1040.4 L168.8,1040.4 L168.8,1046 L172.8,1046 L172.8,1040.4 L180.4,1040.4 L180.4,1023.8 L187.6,1023.8 L187.6,1029.3 L191,1029.3 L191,1034.9 L195,1034.9 L195,1040.4 L242.9,1040.4 L242.9,1034.9 L254.1,1034.9 L254.1,996 L261.7,996 L261.7,1012.5 L265.4,1012.5 L265.4,979 L268.9,979 L268.9,951.1 L276.5,951.1 L276.5,1023.8 L283.8,1023.8 L283.8,1035.1 L287.2,1035.1 L287.2,1023.8 L291.1,1023.8 L291.1,973.2 L295.1,973.2 L295.1,939.5 L302,939.5 L302,979 L306.1,979 L306.1,973.2 L313.4,973.2 L313.4,951.1 L317.1,951.1 L317.1,889.2 L324.3,889.2 L324.3,922.8 L327.9,922.8 L327.9,1012.4 L331.9,1012.4 L331.9,1046 L335.1,1046 L335.1,1029.2 L343,1029.2 L343,1040.6 L346.8,1040.6 L346.8,1061.2 Z" fill="#00a651"/>
<line x1="182.2" y1="882.5" x2="182.2" y2="886" stroke="#231f20" stroke-width="1.8"/>
<line x1="255.3" y1="882.5" x2="255.3" y2="886" stroke="#231f20" stroke-width="1.8"/>
<line x1="328.8" y1="882.5" x2="328.8" y2="886" stroke="#231f20" stroke-width="1.8"/>
<line x1="402.3" y1="882.5" x2="402.3" y2="886" stroke="#231f20" stroke-width="1.8"/>
<line x1="475.4" y1="882.5" x2="475.4" y2="886" stroke="#231f20" stroke-width="1.8"/>
<line x1="402.3" y1="1059.4" x2="402.3" y2="1055.9" stroke="#231f20" stroke-width="1.8"/>
<line x1="475" y1="1059.4" x2="475" y2="1055.9" stroke="#231f20" stroke-width="1.8"/>
<line x1="160" y1="1059.9" x2="160" y2="1053.4" stroke="#231f20" stroke-width="1.6"/>
<line x1="223.4" y1="1059.9" x2="223.4" y2="1053.4" stroke="#231f20" stroke-width="1.6"/>
<line x1="333.9" y1="1059.9" x2="333.9" y2="1053.4" stroke="#231f20" stroke-width="1.6"/>
<line x1="128.3" y1="1059" x2="131.8" y2="1059" stroke="#231f20" stroke-width="1.8"/>
<line x1="493.3" y1="1059" x2="489.8" y2="1059" stroke="#231f20" stroke-width="1.8"/>
<line x1="128.3" y1="1019.9" x2="131.8" y2="1019.9" stroke="#231f20" stroke-width="1.8"/>
<line x1="493.3" y1="1019.9" x2="489.8" y2="1019.9" stroke="#231f20" stroke-width="1.8"/>
<line x1="128.3" y1="980.8" x2="131.8" y2="980.8" stroke="#231f20" stroke-width="1.8"/>
<line x1="493.3" y1="980.8" x2="489.8" y2="980.8" stroke="#231f20" stroke-width="1.8"/>
<line x1="128.3" y1="941.7" x2="131.8" y2="941.7" stroke="#231f20" stroke-width="1.8"/>
<line x1="493.3" y1="941.7" x2="489.8" y2="941.7" stroke="#231f20" stroke-width="1.8"/>
<line x1="128.3" y1="902.6" x2="131.8" y2="902.6" stroke="#231f20" stroke-width="1.8"/>
<line x1="493.3" y1="902.6" x2="489.8" y2="902.6" stroke="#231f20" stroke-width="1.8"/>
<text x="116" y="1066.6" font-size="24.5" font-weight="normal" text-anchor="end">0</text>
<text x="122" y="988.4" font-size="24.5" font-weight="normal" text-anchor="end">0.04</text>
<text x="122" y="910.2" font-size="24.5" font-weight="normal" text-anchor="end">0.08</text>
<text x="186.4" y="1084.2" font-size="24.5" font-weight="normal" text-anchor="middle">0.94</text>
<text x="259.5" y="1084.2" font-size="24.5" font-weight="normal" text-anchor="middle">0.96</text>
<text x="332.7" y="1084.2" font-size="24.5" font-weight="normal" text-anchor="middle">0.98</text>
<text x="402.3" y="1084.2" font-size="24.5" font-weight="normal" text-anchor="middle">1</text>
<text x="479.5" y="1084.2" font-size="24.5" font-weight="normal" text-anchor="middle">1.02</text>
<text x="12.6" y="869.6" font-size="35.5" font-weight="bold" text-anchor="start">C</text>
<text x="193.5" y="871.4" font-size="29" font-weight="bold" text-anchor="start" textLength="188" lengthAdjust="spacingAndGlyphs">No Correction</text>
<text x="250" y="1129" font-size="29" font-weight="bold"><tspan textLength="61" lengthAdjust="spacingAndGlyphs">X / Z</tspan><tspan font-size="22" dy="11.9">CL</tspan></text>
<text transform="translate(52.2,1046.7) rotate(-90)" font-size="29" font-weight="bold" textLength="156" lengthAdjust="spacingAndGlyphs">distribution</text>
<rect x="577.4" y="882.7" width="364.5" height="176.7" fill="none" stroke="#231f20" stroke-width="1.8"/>
<path d="M773,1061.2 L773,1053.4 L776.8,1053.4 L776.8,1051.5 L780.6,1051.5 L780.6,1050 L784.4,1050 L784.4,1046.5 L787.9,1046.5 L787.9,1041.1 L791.8,1041.1 L791.8,1037.8 L795.4,1037.8 L795.4,1027.1 L799.1,1027.1 L799.1,1020.5 L802.7,1020.5 L802.7,1008.3 L806.6,1008.3 L806.6,1001.9 L810.4,1001.9 L810.4,985 L813.9,985 L813.9,974.4 L817.7,974.4 L817.7,962.1 L821.5,962.1 L821.5,939.6 L825.2,939.6 L825.2,930.9 L828.7,930.9 L828.7,917.5 L832.5,917.5 L832.5,911.4 L836.3,911.4 L836.3,907.6 L839.7,907.6 L839.7,900.4 L847.3,900.4 L847.3,901.9 L850.8,901.9 L850.8,927.4 L854.5,927.4 L854.5,931.8 L858,931.8 L858,947.7 L861.8,947.7 L861.8,967.1 L865.5,967.1 L865.5,977.7 L869.2,977.7 L869.2,988.5 L873,988.5 L873,996.2 L876.7,996.2 L876.7,1007.4 L880.4,1007.4 L880.4,1015 L884.2,1015 L884.2,1020.5 L887.7,1020.5 L887.7,1025.4 L891.4,1025.4 L891.4,1027.2 L895.1,1027.2 L895.1,1032.8 L898.6,1032.8 L898.6,1036.4 L902.3,1036.4 L902.3,1037.2 L906,1037.2 L906,1042.5 L913.5,1042.5 L913.5,1043.3 L921,1043.3 L921,1046.6 L924.8,1046.6 L924.8,1048.4 L928.6,1048.4 L928.6,1049 L932.4,1049 L932.4,1050.1 L939.5,1050.1 L939.5,1061.2 Z" fill="#ed1c24"/>
<path d="M742,1059.4 L755,1058.8 L764,1057.8 L769,1056.8 L773.2,1055.6 L773.2,1060 L742,1060 Z" fill="#231f20"/>
<rect x="937.3" y="1053.2" width="4" height="6" fill="#2e3168" stroke="#231f20" stroke-width="0.8"/>
<line x1="941.9" y1="1059.4" x2="946" y2="1059.4" stroke="#231f20" stroke-width="1.8"/>
<line x1="631" y1="882.7" x2="631" y2="886.2" stroke="#231f20" stroke-width="1.8"/>
<line x1="704.3" y1="882.7" x2="704.3" y2="886.2" stroke="#231f20" stroke-width="1.8"/>
<line x1="777.5" y1="882.7" x2="777.5" y2="886.2" stroke="#231f20" stroke-width="1.8"/>
<line x1="850.6" y1="882.7" x2="850.6" y2="886.2" stroke="#231f20" stroke-width="1.8"/>
<line x1="923.7" y1="882.7" x2="923.7" y2="886.2" stroke="#231f20" stroke-width="1.8"/>
<line x1="631" y1="1059.4" x2="631" y2="1055.9" stroke="#231f20" stroke-width="1.8"/>
<line x1="704.3" y1="1059.4" x2="704.3" y2="1055.9" stroke="#231f20" stroke-width="1.8"/>
<line x1="577.4" y1="1008.9" x2="580.9" y2="1008.9" stroke="#231f20" stroke-width="1.8"/>
<line x1="941.9" y1="1008.9" x2="938.4" y2="1008.9" stroke="#231f20" stroke-width="1.8"/>
<line x1="577.4" y1="958.4" x2="580.9" y2="958.4" stroke="#231f20" stroke-width="1.8"/>
<line x1="941.9" y1="958.4" x2="938.4" y2="958.4" stroke="#231f20" stroke-width="1.8"/>
<line x1="577.4" y1="907.9" x2="580.9" y2="907.9" stroke="#231f20" stroke-width="1.8"/>
<line x1="941.9" y1="907.9" x2="938.4" y2="907.9" stroke="#231f20" stroke-width="1.8"/>
<text x="565.2" y="1067.4" font-size="24.5" font-weight="normal" text-anchor="end">0</text>
<text x="570.5" y="1016.9" font-size="24.5" font-weight="normal" text-anchor="end">0.02</text>
<text x="570.5" y="966.4" font-size="24.5" font-weight="normal" text-anchor="end">0.04</text>
<text x="570.5" y="915.9" font-size="24.5" font-weight="normal" text-anchor="end">0.06</text>
<text x="635.3" y="1084.2" font-size="24.5" font-weight="normal" text-anchor="middle">0.94</text>
<text x="707.8" y="1084.2" font-size="24.5" font-weight="normal" text-anchor="middle">0.96</text>
<text x="780.9" y="1084.2" font-size="24.5" font-weight="normal" text-anchor="middle">0.98</text>
<text x="851.5" y="1084.2" font-size="24.5" font-weight="normal" text-anchor="middle">1</text>
<text x="915.5" y="1084.2" font-size="24.5" font-weight="normal" text-anchor="middle">1.02</text>
<text x="600" y="871.5" font-size="29" font-weight="bold" text-anchor="start" textLength="288" lengthAdjust="spacingAndGlyphs">Importance Sampling</text>
<text x="678.5" y="1129" font-size="29" font-weight="bold">Z<tspan font-size="22" dy="11.9">IS</tspan><tspan dy="-11.9"> / Z</tspan><tspan font-size="22" dy="11.9">CL</tspan></text>
</svg>
</body></html>
